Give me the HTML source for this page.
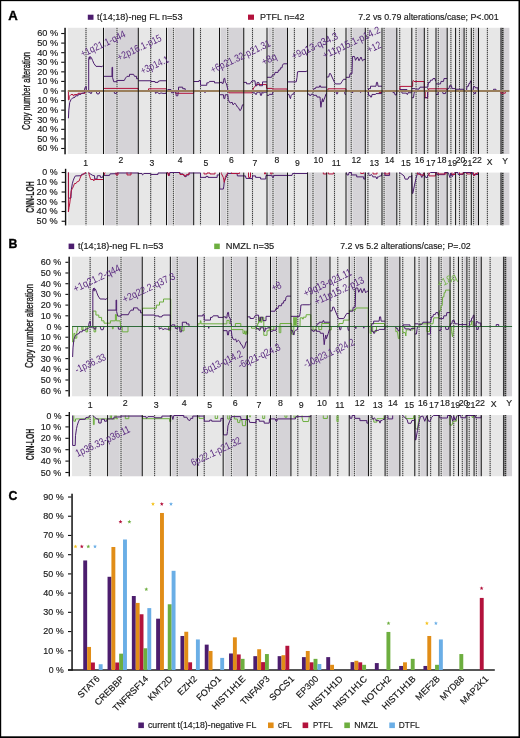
<!DOCTYPE html>
<html><head><meta charset="utf-8"><title>Figure</title>
<style>html,body{margin:0;padding:0;background:#fff;}body{width:520px;height:738px;overflow:hidden;font-family:"Liberation Sans",sans-serif;}svg{display:block;will-change:transform;}</style>
</head><body>
<svg width="520" height="738" viewBox="0 0 520 738" font-family="Liberation Sans, sans-serif">
<rect x="0" y="0" width="520" height="738" fill="#fff"/>
<g id="A">
<rect x="67.8" y="27.8" width="36" height="126.2" fill="#e7e7e7"/>
<rect x="103.5" y="27.8" width="35.1" height="126.2" fill="#e7e7e7"/>
<rect x="105" y="27.8" width="33.1" height="126.2" fill="#d5d3d7"/>
<rect x="138.3" y="27.8" width="28.5" height="126.2" fill="#e7e7e7"/>
<rect x="166.5" y="27.8" width="27.5" height="126.2" fill="#e7e7e7"/>
<rect x="168" y="27.8" width="25.5" height="126.2" fill="#d5d3d7"/>
<rect x="193.7" y="27.8" width="26.1" height="126.2" fill="#e7e7e7"/>
<rect x="219.5" y="27.8" width="24.55" height="126.2" fill="#e7e7e7"/>
<rect x="221" y="27.8" width="22.55" height="126.2" fill="#d5d3d7"/>
<rect x="243.75" y="27.8" width="23.55" height="126.2" fill="#e7e7e7"/>
<rect x="267" y="27.8" width="20.8" height="126.2" fill="#e7e7e7"/>
<rect x="268.5" y="27.8" width="18.8" height="126.2" fill="#d5d3d7"/>
<rect x="287.5" y="27.8" width="20.4" height="126.2" fill="#e7e7e7"/>
<rect x="307.6" y="27.8" width="19.4" height="126.2" fill="#e7e7e7"/>
<rect x="309.1" y="27.8" width="17.4" height="126.2" fill="#d5d3d7"/>
<rect x="326.7" y="27.8" width="19.6" height="126.2" fill="#e7e7e7"/>
<rect x="346" y="27.8" width="19.6" height="126.2" fill="#e7e7e7"/>
<rect x="347.5" y="27.8" width="17.6" height="126.2" fill="#d5d3d7"/>
<rect x="365.3" y="27.8" width="17" height="126.2" fill="#e7e7e7"/>
<rect x="382" y="27.8" width="15.1" height="126.2" fill="#e7e7e7"/>
<rect x="383.5" y="27.8" width="13.1" height="126.2" fill="#d5d3d7"/>
<rect x="396.8" y="27.8" width="15.3" height="126.2" fill="#e7e7e7"/>
<rect x="411.8" y="27.8" width="12.8" height="126.2" fill="#e7e7e7"/>
<rect x="417.1" y="27.8" width="7" height="126.2" fill="#d5d3d7"/>
<rect x="424.3" y="27.8" width="12" height="126.2" fill="#e7e7e7"/>
<rect x="436" y="27.8" width="11.5" height="126.2" fill="#e7e7e7"/>
<rect x="439.3" y="27.8" width="7.7" height="126.2" fill="#d5d3d7"/>
<rect x="447.2" y="27.8" width="8.7" height="126.2" fill="#e7e7e7"/>
<rect x="455.6" y="27.8" width="8.8" height="126.2" fill="#e7e7e7"/>
<rect x="460.5" y="27.8" width="3.4" height="126.2" fill="#d5d3d7"/>
<rect x="464.1" y="27.8" width="7.5" height="126.2" fill="#e7e7e7"/>
<rect x="471.3" y="27.8" width="7.5" height="126.2" fill="#e7e7e7"/>
<rect x="474.6" y="27.8" width="3.7" height="126.2" fill="#d5d3d7"/>
<rect x="478.5" y="27.8" width="21.8" height="126.2" fill="#e7e7e7"/>
<rect x="500" y="27.8" width="9.4" height="126.2" fill="#d5d3d7"/>
<rect x="500.5" y="27.8" width="1.15" height="126.2" fill="#151515"/>
<rect x="501.75" y="27.8" width="1.9" height="126.2" fill="#909090"/>
<rect x="115.7" y="27.8" width="2.6" height="126.2" fill="#e7e7e7"/>
<rect x="172.1" y="27.8" width="2.6" height="126.2" fill="#e7e7e7"/>
<rect x="226.45" y="27.8" width="2.6" height="126.2" fill="#e7e7e7"/>
<rect x="271.7" y="27.8" width="2.6" height="126.2" fill="#e7e7e7"/>
<rect x="311.7" y="27.8" width="2.6" height="126.2" fill="#e7e7e7"/>
<rect x="349.9" y="27.8" width="2.6" height="126.2" fill="#e7e7e7"/>
<rect x="382.8" y="27.8" width="2.6" height="126.2" fill="#e7e7e7"/>
<rect x="414.8" y="27.8" width="2.6" height="126.2" fill="#e7e7e7"/>
<rect x="437" y="27.8" width="2.6" height="126.2" fill="#e7e7e7"/>
<rect x="458.2" y="27.8" width="2.6" height="126.2" fill="#e7e7e7"/>
<rect x="472.3" y="27.8" width="2.6" height="126.2" fill="#e7e7e7"/>
<line x1="86" y1="27.8" x2="86" y2="154" stroke="#b2b2b2" stroke-width="1.15"/>
<line x1="86" y1="28" x2="86" y2="154" stroke="#222" stroke-width="1" stroke-dasharray="1 1" stroke-opacity="0.78"/>
<line x1="117" y1="27.8" x2="117" y2="154" stroke="#b2b2b2" stroke-width="1.15"/>
<line x1="117" y1="28" x2="117" y2="154" stroke="#222" stroke-width="1" stroke-dasharray="1 1" stroke-opacity="0.78"/>
<line x1="150.7" y1="27.8" x2="150.7" y2="154" stroke="#b2b2b2" stroke-width="1.15"/>
<line x1="150.7" y1="28" x2="150.7" y2="154" stroke="#222" stroke-width="1" stroke-dasharray="1 1" stroke-opacity="0.78"/>
<line x1="173.4" y1="27.8" x2="173.4" y2="154" stroke="#b2b2b2" stroke-width="1.15"/>
<line x1="173.4" y1="28" x2="173.4" y2="154" stroke="#222" stroke-width="1" stroke-dasharray="1 1" stroke-opacity="0.78"/>
<line x1="200.5" y1="27.8" x2="200.5" y2="154" stroke="#b2b2b2" stroke-width="1.15"/>
<line x1="200.5" y1="28" x2="200.5" y2="154" stroke="#222" stroke-width="1" stroke-dasharray="1 1" stroke-opacity="0.78"/>
<line x1="227.75" y1="27.8" x2="227.75" y2="154" stroke="#b2b2b2" stroke-width="1.15"/>
<line x1="227.75" y1="28" x2="227.75" y2="154" stroke="#222" stroke-width="1" stroke-dasharray="1 1" stroke-opacity="0.78"/>
<line x1="252.5" y1="27.8" x2="252.5" y2="154" stroke="#b2b2b2" stroke-width="1.15"/>
<line x1="252.5" y1="28" x2="252.5" y2="154" stroke="#222" stroke-width="1" stroke-dasharray="1 1" stroke-opacity="0.78"/>
<line x1="273" y1="27.8" x2="273" y2="154" stroke="#b2b2b2" stroke-width="1.15"/>
<line x1="273" y1="28" x2="273" y2="154" stroke="#222" stroke-width="1" stroke-dasharray="1 1" stroke-opacity="0.78"/>
<line x1="294.4" y1="27.8" x2="294.4" y2="154" stroke="#b2b2b2" stroke-width="1.15"/>
<line x1="294.4" y1="28" x2="294.4" y2="154" stroke="#222" stroke-width="1" stroke-dasharray="1 1" stroke-opacity="0.78"/>
<line x1="313" y1="27.8" x2="313" y2="154" stroke="#b2b2b2" stroke-width="1.15"/>
<line x1="313" y1="28" x2="313" y2="154" stroke="#222" stroke-width="1" stroke-dasharray="1 1" stroke-opacity="0.78"/>
<line x1="334.5" y1="27.8" x2="334.5" y2="154" stroke="#b2b2b2" stroke-width="1.15"/>
<line x1="334.5" y1="28" x2="334.5" y2="154" stroke="#222" stroke-width="1" stroke-dasharray="1 1" stroke-opacity="0.78"/>
<line x1="351.2" y1="27.8" x2="351.2" y2="154" stroke="#b2b2b2" stroke-width="1.15"/>
<line x1="351.2" y1="28" x2="351.2" y2="154" stroke="#222" stroke-width="1" stroke-dasharray="1 1" stroke-opacity="0.78"/>
<line x1="367.9" y1="27.8" x2="367.9" y2="154" stroke="#b2b2b2" stroke-width="1.15"/>
<line x1="367.9" y1="28" x2="367.9" y2="154" stroke="#222" stroke-width="1" stroke-dasharray="1 1" stroke-opacity="0.78"/>
<line x1="384.1" y1="27.8" x2="384.1" y2="154" stroke="#b2b2b2" stroke-width="1.15"/>
<line x1="384.1" y1="28" x2="384.1" y2="154" stroke="#222" stroke-width="1" stroke-dasharray="1 1" stroke-opacity="0.78"/>
<line x1="399.7" y1="27.8" x2="399.7" y2="154" stroke="#b2b2b2" stroke-width="1.15"/>
<line x1="399.7" y1="28" x2="399.7" y2="154" stroke="#222" stroke-width="1" stroke-dasharray="1 1" stroke-opacity="0.78"/>
<line x1="416.1" y1="27.8" x2="416.1" y2="154" stroke="#b2b2b2" stroke-width="1.15"/>
<line x1="416.1" y1="28" x2="416.1" y2="154" stroke="#222" stroke-width="1" stroke-dasharray="1 1" stroke-opacity="0.78"/>
<line x1="427.7" y1="27.8" x2="427.7" y2="154" stroke="#b2b2b2" stroke-width="1.15"/>
<line x1="427.7" y1="28" x2="427.7" y2="154" stroke="#222" stroke-width="1" stroke-dasharray="1 1" stroke-opacity="0.78"/>
<line x1="438.3" y1="27.8" x2="438.3" y2="154" stroke="#b2b2b2" stroke-width="1.15"/>
<line x1="438.3" y1="28" x2="438.3" y2="154" stroke="#222" stroke-width="1" stroke-dasharray="1 1" stroke-opacity="0.78"/>
<line x1="450.9" y1="27.8" x2="450.9" y2="154" stroke="#b2b2b2" stroke-width="1.15"/>
<line x1="450.9" y1="28" x2="450.9" y2="154" stroke="#222" stroke-width="1" stroke-dasharray="1 1" stroke-opacity="0.78"/>
<line x1="459.5" y1="27.8" x2="459.5" y2="154" stroke="#b2b2b2" stroke-width="1.15"/>
<line x1="459.5" y1="28" x2="459.5" y2="154" stroke="#222" stroke-width="1" stroke-dasharray="1 1" stroke-opacity="0.78"/>
<line x1="466.4" y1="27.8" x2="466.4" y2="154" stroke="#b2b2b2" stroke-width="1.15"/>
<line x1="466.4" y1="28" x2="466.4" y2="154" stroke="#222" stroke-width="1" stroke-dasharray="1 1" stroke-opacity="0.78"/>
<line x1="473.6" y1="27.8" x2="473.6" y2="154" stroke="#b2b2b2" stroke-width="1.15"/>
<line x1="473.6" y1="28" x2="473.6" y2="154" stroke="#222" stroke-width="1" stroke-dasharray="1 1" stroke-opacity="0.78"/>
<line x1="487.4" y1="27.8" x2="487.4" y2="154" stroke="#b2b2b2" stroke-width="1.15"/>
<line x1="487.4" y1="28" x2="487.4" y2="154" stroke="#222" stroke-width="1" stroke-dasharray="1 1" stroke-opacity="0.78"/>
<line x1="502.7" y1="28" x2="502.7" y2="154" stroke="#222" stroke-width="1.5" stroke-dasharray="1 1" stroke-opacity="0.85"/>
<rect x="64.3" y="27.8" width="1.5" height="126.5" fill="#111"/>
<rect x="61.2" y="147.93" width="3.4" height="1.1" fill="#111"/>
<text x="58.2" y="151.38" font-size="8.2" text-anchor="end" fill="#1a1a1a" textLength="21" lengthAdjust="spacingAndGlyphs"  stroke="#1a1a1a" stroke-width="0.15">60 %</text>
<rect x="61.2" y="138.35" width="3.4" height="1.1" fill="#111"/>
<text x="58.2" y="141.8" font-size="8.2" text-anchor="end" fill="#1a1a1a" textLength="21" lengthAdjust="spacingAndGlyphs"  stroke="#1a1a1a" stroke-width="0.15">50 %</text>
<rect x="61.2" y="128.77" width="3.4" height="1.1" fill="#111"/>
<text x="58.2" y="132.22" font-size="8.2" text-anchor="end" fill="#1a1a1a" textLength="21" lengthAdjust="spacingAndGlyphs"  stroke="#1a1a1a" stroke-width="0.15">40 %</text>
<rect x="61.2" y="119.19" width="3.4" height="1.1" fill="#111"/>
<text x="58.2" y="122.64" font-size="8.2" text-anchor="end" fill="#1a1a1a" textLength="21" lengthAdjust="spacingAndGlyphs"  stroke="#1a1a1a" stroke-width="0.15">30 %</text>
<rect x="61.2" y="109.61" width="3.4" height="1.1" fill="#111"/>
<text x="58.2" y="113.06" font-size="8.2" text-anchor="end" fill="#1a1a1a" textLength="21" lengthAdjust="spacingAndGlyphs"  stroke="#1a1a1a" stroke-width="0.15">20 %</text>
<rect x="61.2" y="100.03" width="3.4" height="1.1" fill="#111"/>
<text x="58.2" y="103.48" font-size="8.2" text-anchor="end" fill="#1a1a1a" textLength="21" lengthAdjust="spacingAndGlyphs"  stroke="#1a1a1a" stroke-width="0.15">10 %</text>
<rect x="61.2" y="90.45" width="3.4" height="1.1" fill="#111"/>
<text x="58.2" y="93.9" font-size="8.2" text-anchor="end" fill="#1a1a1a" textLength="15.3" lengthAdjust="spacingAndGlyphs"  stroke="#1a1a1a" stroke-width="0.15">0 %</text>
<rect x="61.2" y="80.87" width="3.4" height="1.1" fill="#111"/>
<text x="58.2" y="84.32" font-size="8.2" text-anchor="end" fill="#1a1a1a" textLength="21" lengthAdjust="spacingAndGlyphs"  stroke="#1a1a1a" stroke-width="0.15">10 %</text>
<rect x="61.2" y="71.29" width="3.4" height="1.1" fill="#111"/>
<text x="58.2" y="74.74" font-size="8.2" text-anchor="end" fill="#1a1a1a" textLength="21" lengthAdjust="spacingAndGlyphs"  stroke="#1a1a1a" stroke-width="0.15">20 %</text>
<rect x="61.2" y="61.71" width="3.4" height="1.1" fill="#111"/>
<text x="58.2" y="65.16" font-size="8.2" text-anchor="end" fill="#1a1a1a" textLength="21" lengthAdjust="spacingAndGlyphs"  stroke="#1a1a1a" stroke-width="0.15">30 %</text>
<rect x="61.2" y="52.13" width="3.4" height="1.1" fill="#111"/>
<text x="58.2" y="55.58" font-size="8.2" text-anchor="end" fill="#1a1a1a" textLength="21" lengthAdjust="spacingAndGlyphs"  stroke="#1a1a1a" stroke-width="0.15">40 %</text>
<rect x="61.2" y="42.55" width="3.4" height="1.1" fill="#111"/>
<text x="58.2" y="46" font-size="8.2" text-anchor="end" fill="#1a1a1a" textLength="21" lengthAdjust="spacingAndGlyphs"  stroke="#1a1a1a" stroke-width="0.15">50 %</text>
<rect x="61.2" y="32.97" width="3.4" height="1.1" fill="#111"/>
<text x="58.2" y="36.42" font-size="8.2" text-anchor="end" fill="#1a1a1a" textLength="21" lengthAdjust="spacingAndGlyphs"  stroke="#1a1a1a" stroke-width="0.15">60 %</text>
<text x="0" y="0" font-size="11.3" text-anchor="middle" fill="#1a1a1a" textLength="78" lengthAdjust="spacingAndGlyphs" transform="translate(29.7 91) rotate(-90)" stroke="#1a1a1a" stroke-width="0.35">Copy number alteration</text>
<polyline points="103.5,91 103.5,88.41 138.3,88.41 138.3,91" fill="none" stroke="#b3123c" stroke-width="1" stroke-linejoin="miter"/>
<polyline points="148.5,91 148.5,88.8 166.5,88.8 166.5,91" fill="none" stroke="#b3123c" stroke-width="1" stroke-linejoin="miter"/>
<polyline points="252.2,91 254,87.65 256.5,84.58 266.6,84.58 266.6,88.41 272,88.41 272,88.99 287.3,88.99 287.3,91" fill="none" stroke="#b3123c" stroke-width="1" stroke-linejoin="miter"/>
<polyline points="327.9,91 327.9,88.8 346,88.8 346,91" fill="none" stroke="#b3123c" stroke-width="1" stroke-linejoin="miter"/>
<polyline points="400,91 400,86.4 411.3,86.4 412.7,86.4 412.7,81.52 413.4,80.46 414,81.52 424.3,81.52 424.3,91" fill="none" stroke="#b3123c" stroke-width="1" stroke-linejoin="miter"/>
<polyline points="428.6,91 428.6,88.8 446.8,88.8 446.8,91" fill="none" stroke="#b3123c" stroke-width="1" stroke-linejoin="miter"/>
<polyline points="68.4,91 68.4,99.81 69,99.81 69.3,96.27 71,94.54 73,94.54 73.3,95.79 74,95.79 74.3,94.54 77.6,94.54 78,93.3 85,93.3 85,91.96 86,91" fill="none" stroke="#b3123c" stroke-width="1" stroke-linejoin="miter"/>
<polyline points="175.7,91 175.7,93.3 193.7,93.3 193.7,91" fill="none" stroke="#b3123c" stroke-width="1" stroke-linejoin="miter"/>
<polyline points="228.8,91 228.8,92.82 252.2,92.82 252.2,91" fill="none" stroke="#b3123c" stroke-width="1" stroke-linejoin="miter"/>
<polyline points="379.2,91 379.2,92.53 381.5,92.53 381.5,91" fill="none" stroke="#b3123c" stroke-width="1" stroke-linejoin="miter"/>
<polyline points="425.2,91 425.2,97.71 427.7,97.71 427.7,91" fill="none" stroke="#b3123c" stroke-width="1" stroke-linejoin="miter"/>
<polyline points="501,91 501,93.2 505.3,93.2 505.3,91" fill="none" stroke="#b3123c" stroke-width="1" stroke-linejoin="miter"/>
<polyline points="68,91 84.6,91 84.6,89.08 85.5,86.59 86.3,86.59 86.3,91 88.7,91 88.7,58.43 89.4,56.7 89.9,59.39 90.4,56.7 91.3,57.47 92.5,60.34 94,63.7 96,66.38 100,66.38 102,66.76 103.5,65.13" fill="none" stroke="#4c1d6e" stroke-width="1" stroke-linejoin="miter"/>
<polyline points="103.5,76.34 112,76.34 112,67.34 112.6,67.34 112.6,77.59 113.7,81.71 117,81.71 117,80.46 124.3,80.46 125.5,78.07 127,76.34 129.5,76.34 129.5,74.33 133.6,74.33 134.5,76.34 136.6,76.34 136.6,78.74 138.3,78.74" fill="none" stroke="#4c1d6e" stroke-width="1" stroke-linejoin="miter"/>
<polyline points="138.3,80.75 151,80.75 151,81.52 155,81.52 155,82.38 158,82.38 158,81.52 160,80.75 166.5,80.75 166.5,91" fill="none" stroke="#4c1d6e" stroke-width="1" stroke-linejoin="miter"/>
<polyline points="166.5,91 168,89.56 171,89.56 171,91 178.5,91 178.5,87.17 182.7,87.17 182.7,88.7 185.2,88.7 185.2,91 193.7,91" fill="none" stroke="#4c1d6e" stroke-width="1" stroke-linejoin="miter"/>
<polyline points="193.7,81.52 199,81.52 199,80.46 200.5,80.46 200.5,85.25 206.8,85.25 206.8,82.86 208.5,82.86 209.5,81.42 214.5,81.42 214.5,82.86 219.5,82.86" fill="none" stroke="#4c1d6e" stroke-width="1" stroke-linejoin="miter"/>
<polyline points="219.5,82.38 222,82.38 222,83.34 223.2,83.34 223.5,80.65 224.1,78.35 224.8,78.35 225.3,82.38 226.3,83.34 227,85.83 228,91 243.75,91" fill="none" stroke="#4c1d6e" stroke-width="1" stroke-linejoin="miter"/>
<polyline points="243.75,82.38 246.5,82.38 246.5,83.81 250,83.81 252,80.85 255,80.85 255.5,85.73 257,85.73 257,82.67 259,82.67 259.5,85.73 262.5,85.73 262.5,81.9 267,81.9" fill="none" stroke="#4c1d6e" stroke-width="1" stroke-linejoin="miter"/>
<polyline points="267,77.3 271.5,77.3 272.5,74.91 274.5,74.91 275,72.41 278,72.41 278.5,70.12 280,70.12 280.5,67.82 282,67.82 282.5,65.13 283.5,63.79 287.5,63.79" fill="none" stroke="#4c1d6e" stroke-width="1" stroke-linejoin="miter"/>
<polyline points="287.5,81.9 296.2,81.9 297,77.59 297.5,71.84 299,71.55 306,71.55 307,70.88 307.6,70.88" fill="none" stroke="#4c1d6e" stroke-width="1" stroke-linejoin="miter"/>
<polyline points="307.6,91 313,91 314.2,88.51 315.6,88.51 315.9,87.17 319.4,87.17 319.7,85.73 320.4,85.73 320.7,87.17 325.9,87.17 326.7,87.17" fill="none" stroke="#4c1d6e" stroke-width="1" stroke-linejoin="miter"/>
<polyline points="326.7,77.01 328.7,77.01 329.5,73.56 330.5,73.56 332,77.01 334.5,82.38 335.5,83.91 340.5,83.91 342,81.61 343.5,79.31 346,79.31" fill="none" stroke="#4c1d6e" stroke-width="1" stroke-linejoin="miter"/>
<polyline points="346,77.3 349.5,77.3 350,73.76 352,73.76 352.5,56.51 354.5,56.51 355.5,60.34 357.5,56.99 359,60.82 361,56.99 362.5,60.82 364,59.39 365.3,59.39" fill="none" stroke="#4c1d6e" stroke-width="1" stroke-linejoin="miter"/>
<polyline points="365.3,91 368.5,91 368.5,88.61 370.5,88.61 370.5,86.21 376,86.21 376.5,82.38 377.5,82.38 378,86.21 382,86.21" fill="none" stroke="#4c1d6e" stroke-width="1" stroke-linejoin="miter"/>
<polyline points="396.8,91 400,91 400,89.56 407,89.56 407,91 411.8,91" fill="none" stroke="#4c1d6e" stroke-width="1" stroke-linejoin="miter"/>
<polyline points="411.8,88.61 415,88.61 415.5,89.08 419,89.08 420,87.17 424.3,87.17" fill="none" stroke="#4c1d6e" stroke-width="1" stroke-linejoin="miter"/>
<polyline points="424.3,87.17 427.7,87.17 428.5,82.38 430,82.38 430.5,80.17 432.5,80.17 433,78.55 435,78.55 435.5,80.94 436,80.94" fill="none" stroke="#4c1d6e" stroke-width="1" stroke-linejoin="miter"/>
<polyline points="436,83.91 440.5,83.91 441,81.42 443.5,81.42 444,78.55 447.2,78.55" fill="none" stroke="#4c1d6e" stroke-width="1" stroke-linejoin="miter"/>
<polyline points="447.2,91 447.5,88.61 449,88.61 449.5,85.73 451.5,85.73 452,88.61 455,88.61" fill="none" stroke="#4c1d6e" stroke-width="1" stroke-linejoin="miter"/>
<polyline points="455.6,89.28 464.1,89.28" fill="none" stroke="#4c1d6e" stroke-width="1" stroke-linejoin="miter"/>
<polyline points="464.1,91 466.5,91 467,86.21 468.5,86.21 469,83.34 470,83.34 470.5,80.94 471.3,80.94 471.3,91" fill="none" stroke="#4c1d6e" stroke-width="1" stroke-linejoin="miter"/>
<polyline points="471.3,91 473,91 473.5,86.69 475,86.69 475.5,87.84 478,87.84 478,91" fill="none" stroke="#4c1d6e" stroke-width="1" stroke-linejoin="miter"/>
<polyline points="493.5,91 493.5,89.28 496,89.28 496,91" fill="none" stroke="#4c1d6e" stroke-width="1" stroke-linejoin="miter"/>
<polyline points="68.4,118.3 68.8,110.16 69.7,102.5 71,99.62 72.3,98.19 75,97.23 75.5,95.79 78,95.79 78.5,94.35 81,94.35 81.5,93.39 84,92.92 86,91 88.5,92.15 90,92.15 90.3,93.39 91.5,93.39 92,91 96,91 97,93.87 99,93.87 100,91 103.5,91" fill="none" stroke="#4c1d6e" stroke-width="1" stroke-linejoin="miter"/>
<polyline points="103.5,91 114,91 114.5,93.39 116.5,93.39 117,91 138.3,91" fill="none" stroke="#4c1d6e" stroke-width="1" stroke-linejoin="miter"/>
<polyline points="138.3,91 155,91 155.5,93.39 157.5,92.15 159,93.87 161,92.92 163,93.39 166,93.39 166.5,91" fill="none" stroke="#4c1d6e" stroke-width="1" stroke-linejoin="miter"/>
<polyline points="171.5,91 171.5,92.72 174,92.72 174,91 175.7,91 176.2,95.79 177.8,95.79 178.3,91" fill="none" stroke="#4c1d6e" stroke-width="1" stroke-linejoin="miter"/>
<polyline points="204.5,91 205,92.72 205.5,91" fill="none" stroke="#4c1d6e" stroke-width="1" stroke-linejoin="miter"/>
<polyline points="219.5,94.74 223.4,94.74 223.9,98.57 224.8,98.57 225.3,94.74 227.76,94.74 228.3,99.62 229.6,102.5 231,102.97 232,102.02 233,104.8 234.8,103.26 236,104.41 237.4,107.09 238.5,107.77 239.9,110.64 241,109.68 242.5,104.8 243.75,104.8" fill="none" stroke="#4c1d6e" stroke-width="1" stroke-linejoin="miter"/>
<polyline points="252.5,91 253,92.92 255,92.92 255.5,94.35 256.5,94.35 257,92.15 260,92.15 260.5,95.31 261.5,95.31 262,92.15 263,93.39 264,92.15 267,92.15" fill="none" stroke="#4c1d6e" stroke-width="1" stroke-linejoin="miter"/>
<polyline points="267,95.31 269,95.31 269.5,94.35 272.5,94.35 273,91 287.5,91" fill="none" stroke="#4c1d6e" stroke-width="1" stroke-linejoin="miter"/>
<polyline points="287.5,94.35 289,94.35 289.5,96.75 290.5,98.66 291,95.79 292,94.35 294,93.87 294.4,91 307.6,91" fill="none" stroke="#4c1d6e" stroke-width="1" stroke-linejoin="miter"/>
<polyline points="307.6,94.07 309,94.07 309.5,95.31 311,95.31 311.5,94.07 313,94.07 313.5,95.31 316.5,95.31 317,97.04 320,97.04 320.3,100.58 320.9,107.29 321.5,102.97 322.5,98.66 323,102.02 324,99.62 325,97.04 326,93.87 326.7,93.39" fill="none" stroke="#4c1d6e" stroke-width="1" stroke-linejoin="miter"/>
<polyline points="336,91 336.5,93.87 337.5,93.87 338,91" fill="none" stroke="#4c1d6e" stroke-width="1" stroke-linejoin="miter"/>
<polyline points="344.5,91 345,94.35 346,94.35" fill="none" stroke="#4c1d6e" stroke-width="1" stroke-linejoin="miter"/>
<polyline points="352.3,91 352.6,92.92 353,91" fill="none" stroke="#4c1d6e" stroke-width="1" stroke-linejoin="miter"/>
<polyline points="360.3,91 360.6,92.53 361,91" fill="none" stroke="#4c1d6e" stroke-width="1" stroke-linejoin="miter"/>
<polyline points="368.5,91 368.5,95.31 370,95.31 370.5,97.04 371.5,97.04 372,94.45 375.5,94.45 376,93.59 381.5,93.59 382,91" fill="none" stroke="#4c1d6e" stroke-width="1" stroke-linejoin="miter"/>
<polyline points="392.5,91 393,92.63 394.5,92.63 395,94.83 396.5,94.83 396.8,91" fill="none" stroke="#4c1d6e" stroke-width="1" stroke-linejoin="miter"/>
<polyline points="401.5,91 402,93.11 406.5,93.11 407,94.45 407.5,94.45 408,92.72 411.8,92.72" fill="none" stroke="#4c1d6e" stroke-width="1" stroke-linejoin="miter"/>
<polyline points="411.8,97.71 413.5,97.71 414,93.87 414.5,91" fill="none" stroke="#4c1d6e" stroke-width="1" stroke-linejoin="miter"/>
<polyline points="424.3,97.71 427.5,97.71 427.7,91" fill="none" stroke="#4c1d6e" stroke-width="1" stroke-linejoin="miter"/>
<polyline points="436,94.45 438,94.45 438.3,91 442.5,91 443,93.59 445.5,93.59 446,91" fill="none" stroke="#4c1d6e" stroke-width="1" stroke-linejoin="miter"/>
<polyline points="473.8,91 474,93.59 475.5,93.59 475.7,91" fill="none" stroke="#4c1d6e" stroke-width="1" stroke-linejoin="miter"/>
<rect x="67.8" y="90" width="441.6" height="2" fill="#9a7f5c"/>
<line x1="103.5" y1="27.8" x2="103.5" y2="154" stroke="#111" stroke-width="1"/>
<line x1="138.3" y1="27.8" x2="138.3" y2="154" stroke="#111" stroke-width="1"/>
<line x1="166.5" y1="27.8" x2="166.5" y2="154" stroke="#111" stroke-width="1"/>
<line x1="193.7" y1="27.8" x2="193.7" y2="154" stroke="#111" stroke-width="1"/>
<line x1="219.5" y1="27.8" x2="219.5" y2="154" stroke="#111" stroke-width="1"/>
<line x1="243.75" y1="27.8" x2="243.75" y2="154" stroke="#111" stroke-width="1"/>
<line x1="267" y1="27.8" x2="267" y2="154" stroke="#111" stroke-width="1"/>
<line x1="287.5" y1="27.8" x2="287.5" y2="154" stroke="#111" stroke-width="1"/>
<line x1="307.6" y1="27.8" x2="307.6" y2="154" stroke="#111" stroke-width="1"/>
<line x1="326.7" y1="27.8" x2="326.7" y2="154" stroke="#111" stroke-width="1"/>
<line x1="346" y1="27.8" x2="346" y2="154" stroke="#111" stroke-width="1"/>
<line x1="365.3" y1="27.8" x2="365.3" y2="154" stroke="#111" stroke-width="1"/>
<line x1="382" y1="27.8" x2="382" y2="154" stroke="#111" stroke-width="1"/>
<line x1="396.8" y1="27.8" x2="396.8" y2="154" stroke="#111" stroke-width="1"/>
<line x1="411.8" y1="27.8" x2="411.8" y2="154" stroke="#111" stroke-width="1"/>
<line x1="424.3" y1="27.8" x2="424.3" y2="154" stroke="#111" stroke-width="1"/>
<line x1="436" y1="27.8" x2="436" y2="154" stroke="#111" stroke-width="1"/>
<line x1="447.2" y1="27.8" x2="447.2" y2="154" stroke="#111" stroke-width="1"/>
<line x1="455.6" y1="27.8" x2="455.6" y2="154" stroke="#111" stroke-width="1"/>
<line x1="464.1" y1="27.8" x2="464.1" y2="154" stroke="#111" stroke-width="1"/>
<line x1="471.3" y1="27.8" x2="471.3" y2="154" stroke="#111" stroke-width="1"/>
<line x1="478.5" y1="27.8" x2="478.5" y2="154" stroke="#111" stroke-width="1"/>
<text x="85.7" y="165.5" font-size="8.6" text-anchor="middle" fill="#1a1a1a"  stroke="#1a1a1a" stroke-width="0.15">1</text>
<text x="120.8" y="162.8" font-size="8.6" text-anchor="middle" fill="#1a1a1a"  stroke="#1a1a1a" stroke-width="0.15">2</text>
<text x="152" y="165.5" font-size="8.6" text-anchor="middle" fill="#1a1a1a"  stroke="#1a1a1a" stroke-width="0.15">3</text>
<text x="180.2" y="162.8" font-size="8.6" text-anchor="middle" fill="#1a1a1a"  stroke="#1a1a1a" stroke-width="0.15">4</text>
<text x="205.8" y="165.5" font-size="8.6" text-anchor="middle" fill="#1a1a1a"  stroke="#1a1a1a" stroke-width="0.15">5</text>
<text x="231.3" y="162.8" font-size="8.6" text-anchor="middle" fill="#1a1a1a"  stroke="#1a1a1a" stroke-width="0.15">6</text>
<text x="255" y="165.5" font-size="8.6" text-anchor="middle" fill="#1a1a1a"  stroke="#1a1a1a" stroke-width="0.15">7</text>
<text x="276.8" y="162.8" font-size="8.6" text-anchor="middle" fill="#1a1a1a"  stroke="#1a1a1a" stroke-width="0.15">8</text>
<text x="297.5" y="165.5" font-size="8.6" text-anchor="middle" fill="#1a1a1a"  stroke="#1a1a1a" stroke-width="0.15">9</text>
<text x="318.4" y="162.8" font-size="8.6" text-anchor="middle" fill="#1a1a1a"  stroke="#1a1a1a" stroke-width="0.15">10</text>
<text x="336.3" y="165.5" font-size="8.6" text-anchor="middle" fill="#1a1a1a"  stroke="#1a1a1a" stroke-width="0.15">11</text>
<text x="356.2" y="162.8" font-size="8.6" text-anchor="middle" fill="#1a1a1a"  stroke="#1a1a1a" stroke-width="0.15">12</text>
<text x="374.3" y="165.5" font-size="8.6" text-anchor="middle" fill="#1a1a1a"  stroke="#1a1a1a" stroke-width="0.15">13</text>
<text x="389.5" y="162.8" font-size="8.6" text-anchor="middle" fill="#1a1a1a"  stroke="#1a1a1a" stroke-width="0.15">14</text>
<text x="405.9" y="165.5" font-size="8.6" text-anchor="middle" fill="#1a1a1a"  stroke="#1a1a1a" stroke-width="0.15">15</text>
<text x="419.6" y="162.8" font-size="8.6" text-anchor="middle" fill="#1a1a1a"  stroke="#1a1a1a" stroke-width="0.15">16</text>
<text x="430.7" y="165.5" font-size="8.6" text-anchor="middle" fill="#1a1a1a"  stroke="#1a1a1a" stroke-width="0.15">17</text>
<text x="441.8" y="162.8" font-size="8.6" text-anchor="middle" fill="#1a1a1a"  stroke="#1a1a1a" stroke-width="0.15">18</text>
<text x="452.2" y="165.5" font-size="8.6" text-anchor="middle" fill="#1a1a1a"  stroke="#1a1a1a" stroke-width="0.15">19</text>
<text x="460.5" y="162.8" font-size="8.6" text-anchor="middle" fill="#1a1a1a"  stroke="#1a1a1a" stroke-width="0.15">20</text>
<text x="467.5" y="165.5" font-size="8.6" text-anchor="middle" fill="#1a1a1a"  stroke="#1a1a1a" stroke-width="0.15">21</text>
<text x="477" y="162.8" font-size="8.6" text-anchor="middle" fill="#1a1a1a"  stroke="#1a1a1a" stroke-width="0.15">22</text>
<text x="489.7" y="164.8" font-size="8.6" text-anchor="middle" fill="#1a1a1a"  stroke="#1a1a1a" stroke-width="0.15">X</text>
<text x="505.2" y="163.5" font-size="8.6" text-anchor="middle" fill="#1a1a1a"  stroke="#1a1a1a" stroke-width="0.15">Y</text>
<text x="82.5" y="57.3" font-size="10.2" text-anchor="start" fill="#5a2a80" textLength="48.5" lengthAdjust="spacingAndGlyphs" transform="rotate(-25.3 82.5 57.3)" >+1q21.1-q44</text>
<text x="119" y="61" font-size="10.2" text-anchor="start" fill="#5a2a80" textLength="48" lengthAdjust="spacingAndGlyphs" transform="rotate(-25.3 119 61)" >+2p16.1-p15</text>
<text x="142.5" y="74.5" font-size="10.2" text-anchor="start" fill="#5a2a80" textLength="30" lengthAdjust="spacingAndGlyphs" transform="rotate(-25.3 142.5 74.5)" >+3p14.1</text>
<text x="212.5" y="73.5" font-size="10.2" text-anchor="start" fill="#5a2a80" textLength="65" lengthAdjust="spacingAndGlyphs" transform="rotate(-25.3 212.5 73.5)" >+6p21.32-p21.31</text>
<text x="263.5" y="65.5" font-size="10.2" text-anchor="start" fill="#5a2a80" textLength="15.5" lengthAdjust="spacingAndGlyphs" transform="rotate(-25.3 263.5 65.5)" >+8q</text>
<text x="293.5" y="59.8" font-size="10.2" text-anchor="start" fill="#5a2a80" textLength="50" lengthAdjust="spacingAndGlyphs" transform="rotate(-25.3 293.5 59.8)" >+9q13-q34.3</text>
<text x="324.5" y="59" font-size="10.2" text-anchor="start" fill="#5a2a80" textLength="62.5" lengthAdjust="spacingAndGlyphs" transform="rotate(-25.3 324.5 59)" >+11p15.1-p14.2</text>
<text x="369" y="53.3" font-size="10.2" text-anchor="start" fill="#5a2a80" textLength="14.5" lengthAdjust="spacingAndGlyphs" transform="rotate(-25.3 369 53.3)" >+12</text>
<rect x="87.8" y="14.7" width="5.7" height="5.1" fill="#4c1d6e"/>
<text x="97" y="20.2" font-size="8.4" text-anchor="start" fill="#1a1a1a" textLength="85.5" lengthAdjust="spacingAndGlyphs"  stroke="#1a1a1a" stroke-width="0.15">t(14;18)-neg FL n=53</text>
<rect x="248" y="14.6" width="6" height="5.2" fill="#b3123c"/>
<text x="260" y="20.2" font-size="8.4" text-anchor="start" fill="#1a1a1a" textLength="44.5" lengthAdjust="spacingAndGlyphs"  stroke="#1a1a1a" stroke-width="0.15">PTFL n=42</text>
<text x="358.2" y="20.2" font-size="8.4" text-anchor="start" fill="#1a1a1a" textLength="140.5" lengthAdjust="spacingAndGlyphs"  stroke="#1a1a1a" stroke-width="0.15">7.2 vs 0.79 alterations/case; P&lt;.001</text>
<text x="8.2" y="19.5" font-size="12.6" text-anchor="start" fill="#000" font-weight="bold" textLength="9.5" lengthAdjust="spacingAndGlyphs" stroke="#000" stroke-width="0.35">A</text>
<rect x="67.8" y="172.6" width="36" height="52.6" fill="#e7e7e7"/>
<rect x="103.5" y="172.6" width="35.1" height="52.6" fill="#e7e7e7"/>
<rect x="105" y="172.6" width="33.1" height="52.6" fill="#d5d3d7"/>
<rect x="138.3" y="172.6" width="28.5" height="52.6" fill="#e7e7e7"/>
<rect x="166.5" y="172.6" width="27.5" height="52.6" fill="#e7e7e7"/>
<rect x="168" y="172.6" width="25.5" height="52.6" fill="#d5d3d7"/>
<rect x="193.7" y="172.6" width="26.1" height="52.6" fill="#e7e7e7"/>
<rect x="219.5" y="172.6" width="24.55" height="52.6" fill="#e7e7e7"/>
<rect x="221" y="172.6" width="22.55" height="52.6" fill="#d5d3d7"/>
<rect x="243.75" y="172.6" width="23.55" height="52.6" fill="#e7e7e7"/>
<rect x="267" y="172.6" width="20.8" height="52.6" fill="#e7e7e7"/>
<rect x="268.5" y="172.6" width="18.8" height="52.6" fill="#d5d3d7"/>
<rect x="287.5" y="172.6" width="20.4" height="52.6" fill="#e7e7e7"/>
<rect x="307.6" y="172.6" width="19.4" height="52.6" fill="#e7e7e7"/>
<rect x="309.1" y="172.6" width="17.4" height="52.6" fill="#d5d3d7"/>
<rect x="326.7" y="172.6" width="19.6" height="52.6" fill="#e7e7e7"/>
<rect x="346" y="172.6" width="19.6" height="52.6" fill="#e7e7e7"/>
<rect x="347.5" y="172.6" width="17.6" height="52.6" fill="#d5d3d7"/>
<rect x="365.3" y="172.6" width="17" height="52.6" fill="#e7e7e7"/>
<rect x="382" y="172.6" width="15.1" height="52.6" fill="#e7e7e7"/>
<rect x="383.5" y="172.6" width="13.1" height="52.6" fill="#d5d3d7"/>
<rect x="396.8" y="172.6" width="15.3" height="52.6" fill="#e7e7e7"/>
<rect x="411.8" y="172.6" width="12.8" height="52.6" fill="#e7e7e7"/>
<rect x="417.1" y="172.6" width="7" height="52.6" fill="#d5d3d7"/>
<rect x="424.3" y="172.6" width="12" height="52.6" fill="#e7e7e7"/>
<rect x="436" y="172.6" width="11.5" height="52.6" fill="#e7e7e7"/>
<rect x="439.3" y="172.6" width="7.7" height="52.6" fill="#d5d3d7"/>
<rect x="447.2" y="172.6" width="8.7" height="52.6" fill="#e7e7e7"/>
<rect x="455.6" y="172.6" width="8.8" height="52.6" fill="#e7e7e7"/>
<rect x="460.5" y="172.6" width="3.4" height="52.6" fill="#d5d3d7"/>
<rect x="464.1" y="172.6" width="7.5" height="52.6" fill="#e7e7e7"/>
<rect x="471.3" y="172.6" width="7.5" height="52.6" fill="#e7e7e7"/>
<rect x="474.6" y="172.6" width="3.7" height="52.6" fill="#d5d3d7"/>
<rect x="478.5" y="172.6" width="21.8" height="52.6" fill="#e7e7e7"/>
<rect x="500" y="172.6" width="9.4" height="52.6" fill="#d5d3d7"/>
<rect x="500.5" y="172.6" width="1.15" height="52.6" fill="#151515"/>
<rect x="501.75" y="172.6" width="1.9" height="52.6" fill="#909090"/>
<rect x="115.7" y="172.6" width="2.6" height="52.6" fill="#e7e7e7"/>
<rect x="172.1" y="172.6" width="2.6" height="52.6" fill="#e7e7e7"/>
<rect x="226.45" y="172.6" width="2.6" height="52.6" fill="#e7e7e7"/>
<rect x="271.7" y="172.6" width="2.6" height="52.6" fill="#e7e7e7"/>
<rect x="311.7" y="172.6" width="2.6" height="52.6" fill="#e7e7e7"/>
<rect x="349.9" y="172.6" width="2.6" height="52.6" fill="#e7e7e7"/>
<rect x="382.8" y="172.6" width="2.6" height="52.6" fill="#e7e7e7"/>
<rect x="414.8" y="172.6" width="2.6" height="52.6" fill="#e7e7e7"/>
<rect x="437" y="172.6" width="2.6" height="52.6" fill="#e7e7e7"/>
<rect x="458.2" y="172.6" width="2.6" height="52.6" fill="#e7e7e7"/>
<rect x="472.3" y="172.6" width="2.6" height="52.6" fill="#e7e7e7"/>
<line x1="86" y1="172.6" x2="86" y2="225.2" stroke="#b2b2b2" stroke-width="1.15"/>
<line x1="86" y1="173" x2="86" y2="225.2" stroke="#222" stroke-width="1" stroke-dasharray="1 1" stroke-opacity="0.78"/>
<line x1="117" y1="172.6" x2="117" y2="225.2" stroke="#b2b2b2" stroke-width="1.15"/>
<line x1="117" y1="173" x2="117" y2="225.2" stroke="#222" stroke-width="1" stroke-dasharray="1 1" stroke-opacity="0.78"/>
<line x1="150.7" y1="172.6" x2="150.7" y2="225.2" stroke="#b2b2b2" stroke-width="1.15"/>
<line x1="150.7" y1="173" x2="150.7" y2="225.2" stroke="#222" stroke-width="1" stroke-dasharray="1 1" stroke-opacity="0.78"/>
<line x1="173.4" y1="172.6" x2="173.4" y2="225.2" stroke="#b2b2b2" stroke-width="1.15"/>
<line x1="173.4" y1="173" x2="173.4" y2="225.2" stroke="#222" stroke-width="1" stroke-dasharray="1 1" stroke-opacity="0.78"/>
<line x1="200.5" y1="172.6" x2="200.5" y2="225.2" stroke="#b2b2b2" stroke-width="1.15"/>
<line x1="200.5" y1="173" x2="200.5" y2="225.2" stroke="#222" stroke-width="1" stroke-dasharray="1 1" stroke-opacity="0.78"/>
<line x1="227.75" y1="172.6" x2="227.75" y2="225.2" stroke="#b2b2b2" stroke-width="1.15"/>
<line x1="227.75" y1="173" x2="227.75" y2="225.2" stroke="#222" stroke-width="1" stroke-dasharray="1 1" stroke-opacity="0.78"/>
<line x1="252.5" y1="172.6" x2="252.5" y2="225.2" stroke="#b2b2b2" stroke-width="1.15"/>
<line x1="252.5" y1="173" x2="252.5" y2="225.2" stroke="#222" stroke-width="1" stroke-dasharray="1 1" stroke-opacity="0.78"/>
<line x1="273" y1="172.6" x2="273" y2="225.2" stroke="#b2b2b2" stroke-width="1.15"/>
<line x1="273" y1="173" x2="273" y2="225.2" stroke="#222" stroke-width="1" stroke-dasharray="1 1" stroke-opacity="0.78"/>
<line x1="294.4" y1="172.6" x2="294.4" y2="225.2" stroke="#b2b2b2" stroke-width="1.15"/>
<line x1="294.4" y1="173" x2="294.4" y2="225.2" stroke="#222" stroke-width="1" stroke-dasharray="1 1" stroke-opacity="0.78"/>
<line x1="313" y1="172.6" x2="313" y2="225.2" stroke="#b2b2b2" stroke-width="1.15"/>
<line x1="313" y1="173" x2="313" y2="225.2" stroke="#222" stroke-width="1" stroke-dasharray="1 1" stroke-opacity="0.78"/>
<line x1="334.5" y1="172.6" x2="334.5" y2="225.2" stroke="#b2b2b2" stroke-width="1.15"/>
<line x1="334.5" y1="173" x2="334.5" y2="225.2" stroke="#222" stroke-width="1" stroke-dasharray="1 1" stroke-opacity="0.78"/>
<line x1="351.2" y1="172.6" x2="351.2" y2="225.2" stroke="#b2b2b2" stroke-width="1.15"/>
<line x1="351.2" y1="173" x2="351.2" y2="225.2" stroke="#222" stroke-width="1" stroke-dasharray="1 1" stroke-opacity="0.78"/>
<line x1="367.9" y1="172.6" x2="367.9" y2="225.2" stroke="#b2b2b2" stroke-width="1.15"/>
<line x1="367.9" y1="173" x2="367.9" y2="225.2" stroke="#222" stroke-width="1" stroke-dasharray="1 1" stroke-opacity="0.78"/>
<line x1="384.1" y1="172.6" x2="384.1" y2="225.2" stroke="#b2b2b2" stroke-width="1.15"/>
<line x1="384.1" y1="173" x2="384.1" y2="225.2" stroke="#222" stroke-width="1" stroke-dasharray="1 1" stroke-opacity="0.78"/>
<line x1="399.7" y1="172.6" x2="399.7" y2="225.2" stroke="#b2b2b2" stroke-width="1.15"/>
<line x1="399.7" y1="173" x2="399.7" y2="225.2" stroke="#222" stroke-width="1" stroke-dasharray="1 1" stroke-opacity="0.78"/>
<line x1="416.1" y1="172.6" x2="416.1" y2="225.2" stroke="#b2b2b2" stroke-width="1.15"/>
<line x1="416.1" y1="173" x2="416.1" y2="225.2" stroke="#222" stroke-width="1" stroke-dasharray="1 1" stroke-opacity="0.78"/>
<line x1="427.7" y1="172.6" x2="427.7" y2="225.2" stroke="#b2b2b2" stroke-width="1.15"/>
<line x1="427.7" y1="173" x2="427.7" y2="225.2" stroke="#222" stroke-width="1" stroke-dasharray="1 1" stroke-opacity="0.78"/>
<line x1="438.3" y1="172.6" x2="438.3" y2="225.2" stroke="#b2b2b2" stroke-width="1.15"/>
<line x1="438.3" y1="173" x2="438.3" y2="225.2" stroke="#222" stroke-width="1" stroke-dasharray="1 1" stroke-opacity="0.78"/>
<line x1="450.9" y1="172.6" x2="450.9" y2="225.2" stroke="#b2b2b2" stroke-width="1.15"/>
<line x1="450.9" y1="173" x2="450.9" y2="225.2" stroke="#222" stroke-width="1" stroke-dasharray="1 1" stroke-opacity="0.78"/>
<line x1="459.5" y1="172.6" x2="459.5" y2="225.2" stroke="#b2b2b2" stroke-width="1.15"/>
<line x1="459.5" y1="173" x2="459.5" y2="225.2" stroke="#222" stroke-width="1" stroke-dasharray="1 1" stroke-opacity="0.78"/>
<line x1="466.4" y1="172.6" x2="466.4" y2="225.2" stroke="#b2b2b2" stroke-width="1.15"/>
<line x1="466.4" y1="173" x2="466.4" y2="225.2" stroke="#222" stroke-width="1" stroke-dasharray="1 1" stroke-opacity="0.78"/>
<line x1="473.6" y1="172.6" x2="473.6" y2="225.2" stroke="#b2b2b2" stroke-width="1.15"/>
<line x1="473.6" y1="173" x2="473.6" y2="225.2" stroke="#222" stroke-width="1" stroke-dasharray="1 1" stroke-opacity="0.78"/>
<line x1="487.4" y1="172.6" x2="487.4" y2="225.2" stroke="#b2b2b2" stroke-width="1.15"/>
<line x1="487.4" y1="173" x2="487.4" y2="225.2" stroke="#222" stroke-width="1" stroke-dasharray="1 1" stroke-opacity="0.78"/>
<line x1="502.7" y1="173" x2="502.7" y2="225.2" stroke="#222" stroke-width="1.5" stroke-dasharray="1 1" stroke-opacity="0.85"/>
<rect x="64.9" y="168.8" width="1.4" height="56.6" fill="#111"/>
<rect x="61.6" y="171.95" width="3.4" height="1.1" fill="#111"/>
<text x="57.6" y="175.4" font-size="8.2" text-anchor="end" fill="#1a1a1a" textLength="15.3" lengthAdjust="spacingAndGlyphs"  stroke="#1a1a1a" stroke-width="0.15">0 %</text>
<rect x="61.6" y="181.7" width="3.4" height="1.1" fill="#111"/>
<text x="57.6" y="185.15" font-size="8.2" text-anchor="end" fill="#1a1a1a" textLength="21" lengthAdjust="spacingAndGlyphs"  stroke="#1a1a1a" stroke-width="0.15">10 %</text>
<rect x="61.6" y="191.45" width="3.4" height="1.1" fill="#111"/>
<text x="57.6" y="194.9" font-size="8.2" text-anchor="end" fill="#1a1a1a" textLength="21" lengthAdjust="spacingAndGlyphs"  stroke="#1a1a1a" stroke-width="0.15">20 %</text>
<rect x="61.6" y="201.2" width="3.4" height="1.1" fill="#111"/>
<text x="57.6" y="204.65" font-size="8.2" text-anchor="end" fill="#1a1a1a" textLength="21" lengthAdjust="spacingAndGlyphs"  stroke="#1a1a1a" stroke-width="0.15">30 %</text>
<rect x="61.6" y="210.95" width="3.4" height="1.1" fill="#111"/>
<text x="57.6" y="214.4" font-size="8.2" text-anchor="end" fill="#1a1a1a" textLength="21" lengthAdjust="spacingAndGlyphs"  stroke="#1a1a1a" stroke-width="0.15">40 %</text>
<rect x="61.6" y="220.7" width="3.4" height="1.1" fill="#111"/>
<text x="57.6" y="224.15" font-size="8.2" text-anchor="end" fill="#1a1a1a" textLength="21" lengthAdjust="spacingAndGlyphs"  stroke="#1a1a1a" stroke-width="0.15">50 %</text>
<text x="0" y="0" font-size="10" text-anchor="middle" fill="#1a1a1a" font-weight="bold" textLength="31.5" lengthAdjust="spacingAndGlyphs" transform="translate(33.8 197) rotate(-90)" stroke="#1a1a1a" stroke-width="0.15">CNN-LOH</text>
<polyline points="68.45,172.5 68.45,198.14 71,198.14 71.3,189.76 72.3,183.81 73.1,180.88 74.2,177.96 75.4,175.91 81.15,175.72 81.75,174.25 84.66,173.96 85.86,172.5" fill="none" stroke="#4c1d6e" stroke-width="1" stroke-linejoin="miter"/>
<polyline points="88.67,172.5 90.08,173.77 92.8,175.43 94.5,175.72 94.7,178.94 97,178.94 97.3,175.72 100.3,175.72 100.5,177.38 102.6,177.38 103.1,175.43 109.5,175.43 110.1,173.87 117,173.67 117,172.99 138.3,172.99 138.3,173.47 142,173.47 142.5,174.94 144,173.47 150,173.47 150.5,174.45 158,174.45 158,172.99 166.5,172.99 168,172.5 169,175.91 170,172.5 180,172.5 180,173.96 183,173.96 184,175.91 186,176.89 187,174.94 189,174.94 189,172.99 200.5,172.99 200.5,177.38 206,177.38 206,176.4 208,176.4 208,177.38 217.2,177.38 217.2,174.94 219.5,174.94 219.8,189.07 223.3,189.07 223.8,186.15 224.3,181.28 226,177.38 227.3,174.94 227.75,173.47 237,173.47 237.4,175.91 245.5,175.91 246,178.35 252.5,178.64 252.5,175.91 255.6,175.91 255.6,177.38 260.6,177.38 260.6,179.03 265.7,179.03 266,175.43 271.8,175.43 272.5,177.38 273.5,177.38 273.8,175.43 292,175.43 292.5,173.47 307.2,173.47 307.6,172.5" fill="none" stroke="#4c1d6e" stroke-width="1" stroke-linejoin="miter"/>
<polyline points="346.5,172.5 347,174.94 348.5,174.94 349,172.5 351.5,172.5 351.6,174.94 356.7,174.94 356.7,176.89 363.7,176.89 363.7,179.03 365.2,179.03 365.3,172.5" fill="none" stroke="#4c1d6e" stroke-width="1" stroke-linejoin="miter"/>
<polyline points="368.8,172.5 368.8,174.45 370,175.91 371,174.45 372.8,175.91 372.8,176.89 376,176.89 376.9,179.03 377.5,176.89 378.9,176.89 379.9,175.91 381.5,175.91 382,172.5" fill="none" stroke="#4c1d6e" stroke-width="1" stroke-linejoin="miter"/>
<polyline points="384.9,172.5 384.9,175.43 389.6,175.43 389.6,172.5" fill="none" stroke="#4c1d6e" stroke-width="1" stroke-linejoin="miter"/>
<polyline points="399.3,172.5 400.2,172.99 404.1,175.91 405.1,179.13 408,179.13 408.9,176.79 410.8,176.79 411.8,175.43 412.3,193.46 412.8,193.46 414.5,185.18 416,178.35 417.5,173.47 419.9,172.99 421.8,177.47 423.7,172.99 425.7,177.47 427,177.47 428.6,174.21 430.5,172.5 436.9,172.5 436.9,174.65 444.6,174.65 444.6,172.5 447.9,172.5 448.4,172.79 449.8,177.47 450.9,172.99 452.3,176.69 453.7,173.67 454.8,172.5 458,172.5 458,174.45 463,174.45 463,172.5 472.6,172.5 472.6,174.45 478.4,174.45 478.4,172.5" fill="none" stroke="#4c1d6e" stroke-width="1" stroke-linejoin="miter"/>
<polyline points="68.4,172.5 68.4,211.79 69,207.6 69.8,203.02 70.5,196.88 71.2,191.03 72,189.07 72.5,188.29 73.5,186.15 74.5,183.52 76,183.52 76.5,182.25 79.2,180.88 80,178.35 81.2,175.52 83,174.45 84,173.47 86,172.5" fill="none" stroke="#b3123c" stroke-width="1" stroke-linejoin="miter"/>
<polyline points="88.6,172.5 89.6,176.4 90.7,179.52 93.3,179.52 93.8,180.88 94.3,179.52 103.5,179.52 103.5,172.5" fill="none" stroke="#b3123c" stroke-width="1" stroke-linejoin="miter"/>
<polyline points="103.5,172.5 104,174.94 105,172.5" fill="none" stroke="#b3123c" stroke-width="1" stroke-linejoin="miter"/>
<polyline points="116,172.5 116,174.94 118,174.94 118,172.5" fill="none" stroke="#b3123c" stroke-width="1" stroke-linejoin="miter"/>
<polyline points="127,172.5 127,174.94 131,174.94 131,172.5" fill="none" stroke="#b3123c" stroke-width="1" stroke-linejoin="miter"/>
<polyline points="167.5,172.5 168.5,175.91 169.5,172.5" fill="none" stroke="#b3123c" stroke-width="1" stroke-linejoin="miter"/>
<polyline points="179.5,172.5 180,174.45 184,174.45 185,176.4 186.5,174.45 189,174.45 189,172.5" fill="none" stroke="#b3123c" stroke-width="1" stroke-linejoin="miter"/>
<polyline points="204,172.5 204,173.96 207,173.96 207,172.99 210,172.99 210,173.96 215,173.96 215,172.5" fill="none" stroke="#b3123c" stroke-width="1" stroke-linejoin="miter"/>
<polyline points="221.3,172.5 221.3,173.47 223.3,177.38 224.3,182.25 225.3,177.38 226.5,174.45 227.3,173.47 227.75,172.5" fill="none" stroke="#b3123c" stroke-width="1" stroke-linejoin="miter"/>
<polyline points="231.4,172.5 231.4,173.47 239.5,173.47 239.5,172.5" fill="none" stroke="#b3123c" stroke-width="1" stroke-linejoin="miter"/>
<polyline points="248.5,172.5 248.5,177.38 250.5,177.38 250.5,172.5" fill="none" stroke="#b3123c" stroke-width="1" stroke-linejoin="miter"/>
<polyline points="264.5,172.5 264.5,173.96 265.5,173.96 265.5,172.5" fill="none" stroke="#b3123c" stroke-width="1" stroke-linejoin="miter"/>
<polyline points="270.7,172.5 270.7,173.96 272,173.96 272,172.5" fill="none" stroke="#b3123c" stroke-width="1" stroke-linejoin="miter"/>
<polyline points="323.3,172.5 323.3,173.96 326.7,173.96 326.7,172.5" fill="none" stroke="#b3123c" stroke-width="1" stroke-linejoin="miter"/>
<polyline points="328.4,172.5 328.4,173.96 333.4,173.96 333.4,172.5" fill="none" stroke="#b3123c" stroke-width="1" stroke-linejoin="miter"/>
<polyline points="360.7,172.5 360.7,173.47 363.7,173.47 363.7,172.5" fill="none" stroke="#b3123c" stroke-width="1" stroke-linejoin="miter"/>
<polyline points="373,172.5 373,173.96 377,173.96 377,172.5" fill="none" stroke="#b3123c" stroke-width="1" stroke-linejoin="miter"/>
<polyline points="385,172.5 385,173.96 389,173.96 389,172.5" fill="none" stroke="#b3123c" stroke-width="1" stroke-linejoin="miter"/>
<polyline points="417.5,172.5 417.5,173.96 424,175.43 424,172.5" fill="none" stroke="#b3123c" stroke-width="1" stroke-linejoin="miter"/>
<polyline points="429,172.5 429,175.91 435.6,175.91 435.6,172.5" fill="none" stroke="#b3123c" stroke-width="1" stroke-linejoin="miter"/>
<polyline points="438,172.5 438,173.96 446,173.96 446,172.5" fill="none" stroke="#b3123c" stroke-width="1" stroke-linejoin="miter"/>
<polyline points="452,172.5 452,174.45 455,174.45 455,172.5" fill="none" stroke="#b3123c" stroke-width="1" stroke-linejoin="miter"/>
<polyline points="459.5,172.5 459.5,173.96 463.5,173.96 463.5,172.5" fill="none" stroke="#b3123c" stroke-width="1" stroke-linejoin="miter"/>
<polyline points="467,172.5 467,173.96 470.5,173.96 470.5,172.5" fill="none" stroke="#b3123c" stroke-width="1" stroke-linejoin="miter"/>
<polyline points="473.5,172.5 473.5,175.43 475,175.43 475.5,173.47 477.5,173.47 477.5,172.5" fill="none" stroke="#b3123c" stroke-width="1" stroke-linejoin="miter"/>
<line x1="103.5" y1="172.6" x2="103.5" y2="225.2" stroke="#111" stroke-width="1"/>
<line x1="138.3" y1="172.6" x2="138.3" y2="225.2" stroke="#111" stroke-width="1"/>
<line x1="166.5" y1="172.6" x2="166.5" y2="225.2" stroke="#111" stroke-width="1"/>
<line x1="193.7" y1="172.6" x2="193.7" y2="225.2" stroke="#111" stroke-width="1"/>
<line x1="219.5" y1="172.6" x2="219.5" y2="225.2" stroke="#111" stroke-width="1"/>
<line x1="243.75" y1="172.6" x2="243.75" y2="225.2" stroke="#111" stroke-width="1"/>
<line x1="267" y1="172.6" x2="267" y2="225.2" stroke="#111" stroke-width="1"/>
<line x1="287.5" y1="172.6" x2="287.5" y2="225.2" stroke="#111" stroke-width="1"/>
<line x1="307.6" y1="172.6" x2="307.6" y2="225.2" stroke="#111" stroke-width="1"/>
<line x1="326.7" y1="172.6" x2="326.7" y2="225.2" stroke="#111" stroke-width="1"/>
<line x1="346" y1="172.6" x2="346" y2="225.2" stroke="#111" stroke-width="1"/>
<line x1="365.3" y1="172.6" x2="365.3" y2="225.2" stroke="#111" stroke-width="1"/>
<line x1="382" y1="172.6" x2="382" y2="225.2" stroke="#111" stroke-width="1"/>
<line x1="396.8" y1="172.6" x2="396.8" y2="225.2" stroke="#111" stroke-width="1"/>
<line x1="411.8" y1="172.6" x2="411.8" y2="225.2" stroke="#111" stroke-width="1"/>
<line x1="424.3" y1="172.6" x2="424.3" y2="225.2" stroke="#111" stroke-width="1"/>
<line x1="436" y1="172.6" x2="436" y2="225.2" stroke="#111" stroke-width="1"/>
<line x1="447.2" y1="172.6" x2="447.2" y2="225.2" stroke="#111" stroke-width="1"/>
<line x1="455.6" y1="172.6" x2="455.6" y2="225.2" stroke="#111" stroke-width="1"/>
<line x1="464.1" y1="172.6" x2="464.1" y2="225.2" stroke="#111" stroke-width="1"/>
<line x1="471.3" y1="172.6" x2="471.3" y2="225.2" stroke="#111" stroke-width="1"/>
<line x1="478.5" y1="172.6" x2="478.5" y2="225.2" stroke="#111" stroke-width="1"/>
</g>
<g id="B">
<rect x="72" y="256.7" width="35.88" height="139.6" fill="#e7e7e7"/>
<rect x="107.58" y="256.7" width="34.98" height="139.6" fill="#e7e7e7"/>
<rect x="109.08" y="256.7" width="32.98" height="139.6" fill="#d5d3d7"/>
<rect x="142.25" y="256.7" width="28.4" height="139.6" fill="#e7e7e7"/>
<rect x="170.35" y="256.7" width="27.4" height="139.6" fill="#e7e7e7"/>
<rect x="171.85" y="256.7" width="25.4" height="139.6" fill="#d5d3d7"/>
<rect x="197.46" y="256.7" width="26.01" height="139.6" fill="#e7e7e7"/>
<rect x="223.17" y="256.7" width="24.47" height="139.6" fill="#e7e7e7"/>
<rect x="224.67" y="256.7" width="22.47" height="139.6" fill="#d5d3d7"/>
<rect x="247.33" y="256.7" width="23.47" height="139.6" fill="#e7e7e7"/>
<rect x="270.5" y="256.7" width="20.73" height="139.6" fill="#e7e7e7"/>
<rect x="272" y="256.7" width="18.73" height="139.6" fill="#d5d3d7"/>
<rect x="290.93" y="256.7" width="20.33" height="139.6" fill="#e7e7e7"/>
<rect x="310.96" y="256.7" width="19.33" height="139.6" fill="#e7e7e7"/>
<rect x="312.46" y="256.7" width="17.33" height="139.6" fill="#d5d3d7"/>
<rect x="329.99" y="256.7" width="19.53" height="139.6" fill="#e7e7e7"/>
<rect x="349.23" y="256.7" width="19.53" height="139.6" fill="#e7e7e7"/>
<rect x="350.73" y="256.7" width="17.53" height="139.6" fill="#d5d3d7"/>
<rect x="368.46" y="256.7" width="16.94" height="139.6" fill="#e7e7e7"/>
<rect x="385.1" y="256.7" width="15.05" height="139.6" fill="#e7e7e7"/>
<rect x="386.6" y="256.7" width="13.05" height="139.6" fill="#d5d3d7"/>
<rect x="399.85" y="256.7" width="15.25" height="139.6" fill="#e7e7e7"/>
<rect x="414.8" y="256.7" width="12.76" height="139.6" fill="#e7e7e7"/>
<rect x="420.08" y="256.7" width="6.97" height="139.6" fill="#d5d3d7"/>
<rect x="427.25" y="256.7" width="11.96" height="139.6" fill="#e7e7e7"/>
<rect x="438.91" y="256.7" width="11.46" height="139.6" fill="#e7e7e7"/>
<rect x="442.2" y="256.7" width="7.67" height="139.6" fill="#d5d3d7"/>
<rect x="450.07" y="256.7" width="8.67" height="139.6" fill="#e7e7e7"/>
<rect x="458.44" y="256.7" width="8.77" height="139.6" fill="#e7e7e7"/>
<rect x="463.33" y="256.7" width="3.38" height="139.6" fill="#d5d3d7"/>
<rect x="466.91" y="256.7" width="7.47" height="139.6" fill="#e7e7e7"/>
<rect x="474.09" y="256.7" width="7.47" height="139.6" fill="#e7e7e7"/>
<rect x="477.38" y="256.7" width="3.68" height="139.6" fill="#d5d3d7"/>
<rect x="481.26" y="256.7" width="21.72" height="139.6" fill="#e7e7e7"/>
<rect x="502.69" y="256.7" width="9.37" height="139.6" fill="#d5d3d7"/>
<rect x="503.19" y="256.7" width="1.15" height="139.6" fill="#151515"/>
<rect x="504.44" y="256.7" width="1.9" height="139.6" fill="#909090"/>
<rect x="119.73" y="256.7" width="2.6" height="139.6" fill="#e7e7e7"/>
<rect x="175.93" y="256.7" width="2.6" height="139.6" fill="#e7e7e7"/>
<rect x="230.09" y="256.7" width="2.6" height="139.6" fill="#e7e7e7"/>
<rect x="275.18" y="256.7" width="2.6" height="139.6" fill="#e7e7e7"/>
<rect x="315.04" y="256.7" width="2.6" height="139.6" fill="#e7e7e7"/>
<rect x="353.11" y="256.7" width="2.6" height="139.6" fill="#e7e7e7"/>
<rect x="385.89" y="256.7" width="2.6" height="139.6" fill="#e7e7e7"/>
<rect x="417.78" y="256.7" width="2.6" height="139.6" fill="#e7e7e7"/>
<rect x="439.9" y="256.7" width="2.6" height="139.6" fill="#e7e7e7"/>
<rect x="461.03" y="256.7" width="2.6" height="139.6" fill="#e7e7e7"/>
<rect x="475.08" y="256.7" width="2.6" height="139.6" fill="#e7e7e7"/>
<line x1="90.14" y1="256.7" x2="90.14" y2="396.3" stroke="#b2b2b2" stroke-width="1.15"/>
<line x1="90.14" y1="257" x2="90.14" y2="396.3" stroke="#222" stroke-width="1" stroke-dasharray="1 1" stroke-opacity="0.78"/>
<line x1="121.03" y1="256.7" x2="121.03" y2="396.3" stroke="#b2b2b2" stroke-width="1.15"/>
<line x1="121.03" y1="257" x2="121.03" y2="396.3" stroke="#222" stroke-width="1" stroke-dasharray="1 1" stroke-opacity="0.78"/>
<line x1="154.61" y1="256.7" x2="154.61" y2="396.3" stroke="#b2b2b2" stroke-width="1.15"/>
<line x1="154.61" y1="257" x2="154.61" y2="396.3" stroke="#222" stroke-width="1" stroke-dasharray="1 1" stroke-opacity="0.78"/>
<line x1="177.23" y1="256.7" x2="177.23" y2="396.3" stroke="#b2b2b2" stroke-width="1.15"/>
<line x1="177.23" y1="257" x2="177.23" y2="396.3" stroke="#222" stroke-width="1" stroke-dasharray="1 1" stroke-opacity="0.78"/>
<line x1="204.24" y1="256.7" x2="204.24" y2="396.3" stroke="#b2b2b2" stroke-width="1.15"/>
<line x1="204.24" y1="257" x2="204.24" y2="396.3" stroke="#222" stroke-width="1" stroke-dasharray="1 1" stroke-opacity="0.78"/>
<line x1="231.39" y1="256.7" x2="231.39" y2="396.3" stroke="#b2b2b2" stroke-width="1.15"/>
<line x1="231.39" y1="257" x2="231.39" y2="396.3" stroke="#222" stroke-width="1" stroke-dasharray="1 1" stroke-opacity="0.78"/>
<line x1="256.05" y1="256.7" x2="256.05" y2="396.3" stroke="#b2b2b2" stroke-width="1.15"/>
<line x1="256.05" y1="257" x2="256.05" y2="396.3" stroke="#222" stroke-width="1" stroke-dasharray="1 1" stroke-opacity="0.78"/>
<line x1="276.48" y1="256.7" x2="276.48" y2="396.3" stroke="#b2b2b2" stroke-width="1.15"/>
<line x1="276.48" y1="257" x2="276.48" y2="396.3" stroke="#222" stroke-width="1" stroke-dasharray="1 1" stroke-opacity="0.78"/>
<line x1="297.81" y1="256.7" x2="297.81" y2="396.3" stroke="#b2b2b2" stroke-width="1.15"/>
<line x1="297.81" y1="257" x2="297.81" y2="396.3" stroke="#222" stroke-width="1" stroke-dasharray="1 1" stroke-opacity="0.78"/>
<line x1="316.34" y1="256.7" x2="316.34" y2="396.3" stroke="#b2b2b2" stroke-width="1.15"/>
<line x1="316.34" y1="257" x2="316.34" y2="396.3" stroke="#222" stroke-width="1" stroke-dasharray="1 1" stroke-opacity="0.78"/>
<line x1="337.77" y1="256.7" x2="337.77" y2="396.3" stroke="#b2b2b2" stroke-width="1.15"/>
<line x1="337.77" y1="257" x2="337.77" y2="396.3" stroke="#222" stroke-width="1" stroke-dasharray="1 1" stroke-opacity="0.78"/>
<line x1="354.41" y1="256.7" x2="354.41" y2="396.3" stroke="#b2b2b2" stroke-width="1.15"/>
<line x1="354.41" y1="257" x2="354.41" y2="396.3" stroke="#222" stroke-width="1" stroke-dasharray="1 1" stroke-opacity="0.78"/>
<line x1="371.05" y1="256.7" x2="371.05" y2="396.3" stroke="#b2b2b2" stroke-width="1.15"/>
<line x1="371.05" y1="257" x2="371.05" y2="396.3" stroke="#222" stroke-width="1" stroke-dasharray="1 1" stroke-opacity="0.78"/>
<line x1="387.19" y1="256.7" x2="387.19" y2="396.3" stroke="#b2b2b2" stroke-width="1.15"/>
<line x1="387.19" y1="257" x2="387.19" y2="396.3" stroke="#222" stroke-width="1" stroke-dasharray="1 1" stroke-opacity="0.78"/>
<line x1="402.74" y1="256.7" x2="402.74" y2="396.3" stroke="#b2b2b2" stroke-width="1.15"/>
<line x1="402.74" y1="257" x2="402.74" y2="396.3" stroke="#222" stroke-width="1" stroke-dasharray="1 1" stroke-opacity="0.78"/>
<line x1="419.08" y1="256.7" x2="419.08" y2="396.3" stroke="#b2b2b2" stroke-width="1.15"/>
<line x1="419.08" y1="257" x2="419.08" y2="396.3" stroke="#222" stroke-width="1" stroke-dasharray="1 1" stroke-opacity="0.78"/>
<line x1="430.64" y1="256.7" x2="430.64" y2="396.3" stroke="#b2b2b2" stroke-width="1.15"/>
<line x1="430.64" y1="257" x2="430.64" y2="396.3" stroke="#222" stroke-width="1" stroke-dasharray="1 1" stroke-opacity="0.78"/>
<line x1="441.2" y1="256.7" x2="441.2" y2="396.3" stroke="#b2b2b2" stroke-width="1.15"/>
<line x1="441.2" y1="257" x2="441.2" y2="396.3" stroke="#222" stroke-width="1" stroke-dasharray="1 1" stroke-opacity="0.78"/>
<line x1="453.76" y1="256.7" x2="453.76" y2="396.3" stroke="#b2b2b2" stroke-width="1.15"/>
<line x1="453.76" y1="257" x2="453.76" y2="396.3" stroke="#222" stroke-width="1" stroke-dasharray="1 1" stroke-opacity="0.78"/>
<line x1="462.33" y1="256.7" x2="462.33" y2="396.3" stroke="#b2b2b2" stroke-width="1.15"/>
<line x1="462.33" y1="257" x2="462.33" y2="396.3" stroke="#222" stroke-width="1" stroke-dasharray="1 1" stroke-opacity="0.78"/>
<line x1="469.2" y1="256.7" x2="469.2" y2="396.3" stroke="#b2b2b2" stroke-width="1.15"/>
<line x1="469.2" y1="257" x2="469.2" y2="396.3" stroke="#222" stroke-width="1" stroke-dasharray="1 1" stroke-opacity="0.78"/>
<line x1="476.38" y1="256.7" x2="476.38" y2="396.3" stroke="#b2b2b2" stroke-width="1.15"/>
<line x1="476.38" y1="257" x2="476.38" y2="396.3" stroke="#222" stroke-width="1" stroke-dasharray="1 1" stroke-opacity="0.78"/>
<line x1="490.13" y1="256.7" x2="490.13" y2="396.3" stroke="#b2b2b2" stroke-width="1.15"/>
<line x1="490.13" y1="257" x2="490.13" y2="396.3" stroke="#222" stroke-width="1" stroke-dasharray="1 1" stroke-opacity="0.78"/>
<line x1="505.39" y1="257" x2="505.39" y2="396.3" stroke="#222" stroke-width="1.5" stroke-dasharray="1 1" stroke-opacity="0.85"/>
<rect x="68.4" y="256.7" width="1.5" height="139.9" fill="#111"/>
<rect x="65.4" y="390.15" width="3" height="1.1" fill="#111"/>
<text x="61.4" y="393.7" font-size="8.4" text-anchor="end" fill="#1a1a1a" textLength="20.6" lengthAdjust="spacingAndGlyphs"  stroke="#1a1a1a" stroke-width="0.15">60 %</text>
<rect x="65.4" y="379.45" width="3" height="1.1" fill="#111"/>
<text x="61.4" y="383" font-size="8.4" text-anchor="end" fill="#1a1a1a" textLength="20.6" lengthAdjust="spacingAndGlyphs"  stroke="#1a1a1a" stroke-width="0.15">50 %</text>
<rect x="65.4" y="368.75" width="3" height="1.1" fill="#111"/>
<text x="61.4" y="372.3" font-size="8.4" text-anchor="end" fill="#1a1a1a" textLength="20.6" lengthAdjust="spacingAndGlyphs"  stroke="#1a1a1a" stroke-width="0.15">40 %</text>
<rect x="65.4" y="358.05" width="3" height="1.1" fill="#111"/>
<text x="61.4" y="361.6" font-size="8.4" text-anchor="end" fill="#1a1a1a" textLength="20.6" lengthAdjust="spacingAndGlyphs"  stroke="#1a1a1a" stroke-width="0.15">30 %</text>
<rect x="65.4" y="347.35" width="3" height="1.1" fill="#111"/>
<text x="61.4" y="350.9" font-size="8.4" text-anchor="end" fill="#1a1a1a" textLength="20.6" lengthAdjust="spacingAndGlyphs"  stroke="#1a1a1a" stroke-width="0.15">20 %</text>
<rect x="65.4" y="336.65" width="3" height="1.1" fill="#111"/>
<text x="61.4" y="340.2" font-size="8.4" text-anchor="end" fill="#1a1a1a" textLength="20.6" lengthAdjust="spacingAndGlyphs"  stroke="#1a1a1a" stroke-width="0.15">10 %</text>
<rect x="65.4" y="325.95" width="3" height="1.1" fill="#111"/>
<text x="61.4" y="329.5" font-size="8.4" text-anchor="end" fill="#1a1a1a" textLength="15" lengthAdjust="spacingAndGlyphs"  stroke="#1a1a1a" stroke-width="0.15">0 %</text>
<rect x="65.4" y="315.25" width="3" height="1.1" fill="#111"/>
<text x="61.4" y="318.8" font-size="8.4" text-anchor="end" fill="#1a1a1a" textLength="20.6" lengthAdjust="spacingAndGlyphs"  stroke="#1a1a1a" stroke-width="0.15">10 %</text>
<rect x="65.4" y="304.55" width="3" height="1.1" fill="#111"/>
<text x="61.4" y="308.1" font-size="8.4" text-anchor="end" fill="#1a1a1a" textLength="20.6" lengthAdjust="spacingAndGlyphs"  stroke="#1a1a1a" stroke-width="0.15">20 %</text>
<rect x="65.4" y="293.85" width="3" height="1.1" fill="#111"/>
<text x="61.4" y="297.4" font-size="8.4" text-anchor="end" fill="#1a1a1a" textLength="20.6" lengthAdjust="spacingAndGlyphs"  stroke="#1a1a1a" stroke-width="0.15">30 %</text>
<rect x="65.4" y="283.15" width="3" height="1.1" fill="#111"/>
<text x="61.4" y="286.7" font-size="8.4" text-anchor="end" fill="#1a1a1a" textLength="20.6" lengthAdjust="spacingAndGlyphs"  stroke="#1a1a1a" stroke-width="0.15">40 %</text>
<rect x="65.4" y="272.45" width="3" height="1.1" fill="#111"/>
<text x="61.4" y="276" font-size="8.4" text-anchor="end" fill="#1a1a1a" textLength="20.6" lengthAdjust="spacingAndGlyphs"  stroke="#1a1a1a" stroke-width="0.15">50 %</text>
<rect x="65.4" y="261.75" width="3" height="1.1" fill="#111"/>
<text x="61.4" y="265.3" font-size="8.4" text-anchor="end" fill="#1a1a1a" textLength="20.6" lengthAdjust="spacingAndGlyphs"  stroke="#1a1a1a" stroke-width="0.15">60 %</text>
<text x="0" y="0" font-size="11.4" text-anchor="middle" fill="#1a1a1a" textLength="84" lengthAdjust="spacingAndGlyphs" transform="translate(33.4 326) rotate(-90)" stroke="#1a1a1a" stroke-width="0.35">Copy number alteration</text>
<polyline points="92.8,326.5 92.8,311.09 95.9,311.09 95.9,315.05 98.8,315.05 98.8,317.4 101.6,317.4 101.6,320.83 104,320.83 104,323.18 110.4,323.18 110.4,320.83 115.4,320.83 115.4,314.52 116.4,314.52 116.4,320.83 120.2,320.83 120.5,326.5" fill="none" stroke="#6dae3f" stroke-width="1" stroke-linejoin="miter"/>
<polyline points="142.5,326.5 142.5,308.2 156.4,308.2 156.4,305.1 159.5,305.1 159.5,302 163.5,302 163.5,299 170.75,299 170.75,326.5" fill="none" stroke="#6dae3f" stroke-width="1" stroke-linejoin="miter"/>
<polyline points="197.9,326.5 197.9,323.82 200.2,323.82 200.4,320.72 200.9,320.72 201.1,323.82 226.9,323.82 226.9,320.4 229.2,320.4 229.2,323.5 231.5,323.5 231.5,326.5" fill="none" stroke="#6dae3f" stroke-width="1" stroke-linejoin="miter"/>
<polyline points="235.4,326.5 235.4,323.5 240.8,323.5 240.8,326.5" fill="none" stroke="#6dae3f" stroke-width="1" stroke-linejoin="miter"/>
<polyline points="257.7,326.5 257.7,323.5 258.5,323.5 258.5,317.3 259.6,317.3 259.6,322.22 260.4,322.22 260.4,317.3 261.2,317.3 261.2,322.22 262,322.22 262,317.3 263.8,317.3 263.8,326.5" fill="none" stroke="#6dae3f" stroke-width="1" stroke-linejoin="miter"/>
<polyline points="280,326.5 280,323.5 291.7,323.5 291.7,326.5" fill="none" stroke="#6dae3f" stroke-width="1" stroke-linejoin="miter"/>
<polyline points="293.8,326.5 293.8,317.3 294.4,325.43 295,317.3 295.6,325.43 296.2,317.3 296.2,326.5" fill="none" stroke="#6dae3f" stroke-width="1" stroke-linejoin="miter"/>
<polyline points="300,326.5 300.2,317.83 302.5,317.83 302.5,319.01 303.3,319.01 303.3,317.19 306,317.19 306.2,314.73 310.8,314.73 310.8,326.5" fill="none" stroke="#6dae3f" stroke-width="1" stroke-linejoin="miter"/>
<polyline points="321.7,326.5 321.7,323.5 329.4,323.5 329.4,326.5" fill="none" stroke="#6dae3f" stroke-width="1" stroke-linejoin="miter"/>
<polyline points="338.8,326.5 338.9,323.5 343,323.5 343.5,320.08 349.3,320.08 349.3,310.24 355.2,310.24 356,307.99 368.3,307.99 368.3,326.5" fill="none" stroke="#6dae3f" stroke-width="1" stroke-linejoin="miter"/>
<polyline points="371,326.5 371,323.5 384.5,323.5 384.5,326.5" fill="none" stroke="#6dae3f" stroke-width="1" stroke-linejoin="miter"/>
<polyline points="420,326.5 420,323.82 433,323.82 433.8,317.83 439,317.83 439.3,310.88 440.6,310.88 441,305.63 442.2,305.63 442.6,296.97 443.8,296.97 444.2,292.69 445.2,292.69 445.6,290.12 450,290.12 450,326.5" fill="none" stroke="#6dae3f" stroke-width="1" stroke-linejoin="miter"/>
<polyline points="469.8,326.5 469.8,324.79 471.5,324.79 471.5,321.26 473,321.26 473,326.5" fill="none" stroke="#6dae3f" stroke-width="1" stroke-linejoin="miter"/>
<polyline points="72.6,326.5 72.6,342.01 73.9,342.01 73.9,333.45 75,333.45 75,338.16 76.8,338.16 76.8,330.78 77.6,330.78 77.6,326.5" fill="none" stroke="#6dae3f" stroke-width="1" stroke-linejoin="miter"/>
<polyline points="81.8,326.5 81.8,330.14 83,330.14 83,326.5" fill="none" stroke="#6dae3f" stroke-width="1" stroke-linejoin="miter"/>
<polyline points="85.9,326.5 85.9,331.85 87.6,331.85 87.6,326.5" fill="none" stroke="#6dae3f" stroke-width="1" stroke-linejoin="miter"/>
<polyline points="94,326.5 94,331.85 95.7,331.85 95.7,326.5" fill="none" stroke="#6dae3f" stroke-width="1" stroke-linejoin="miter"/>
<polyline points="112.4,326.5 112.4,328.85 113.2,328.85 113.2,326.5" fill="none" stroke="#6dae3f" stroke-width="1" stroke-linejoin="miter"/>
<polyline points="122.2,326.5 122.2,331.85 128,331.85 128,326.5" fill="none" stroke="#6dae3f" stroke-width="1" stroke-linejoin="miter"/>
<polyline points="168.5,326.5 168.5,330.25 170.75,330.25 170.75,326.5" fill="none" stroke="#6dae3f" stroke-width="1" stroke-linejoin="miter"/>
<polyline points="180.5,326.5 180.5,330.25 184,330.99 184,326.5" fill="none" stroke="#6dae3f" stroke-width="1" stroke-linejoin="miter"/>
<polyline points="231.5,326.5 231.5,329.6 243,329.6 243,333.45 244.6,333.45 244.6,330.78 245.4,334.52 246.2,330.78 247,334.52 247.7,333.45 247.7,326.5" fill="none" stroke="#6dae3f" stroke-width="1" stroke-linejoin="miter"/>
<polyline points="251.5,326.5 251.5,328.21 255.4,328.21 255.4,326.5" fill="none" stroke="#6dae3f" stroke-width="1" stroke-linejoin="miter"/>
<polyline points="256.4,326.5 256.4,328.85 260,328.85 260,326.5" fill="none" stroke="#6dae3f" stroke-width="1" stroke-linejoin="miter"/>
<polyline points="263.8,326.5 263.8,335.27 267,335.27 267,330.78 269.2,330.78 269.2,326.5" fill="none" stroke="#6dae3f" stroke-width="1" stroke-linejoin="miter"/>
<polyline points="270.8,326.5 270.8,329.6 273.8,329.6 273.8,326.5" fill="none" stroke="#6dae3f" stroke-width="1" stroke-linejoin="miter"/>
<polyline points="279.2,326.5 279.2,332.71 280.8,332.71 280.8,326.5" fill="none" stroke="#6dae3f" stroke-width="1" stroke-linejoin="miter"/>
<polyline points="291.7,326.5 291.7,334.2 293.8,334.2 293.8,326.5" fill="none" stroke="#6dae3f" stroke-width="1" stroke-linejoin="miter"/>
<polyline points="313,326.5 313,329.92 316,329.92 316,326.5" fill="none" stroke="#6dae3f" stroke-width="1" stroke-linejoin="miter"/>
<polyline points="318.8,326.5 318.8,329.6 321.7,329.6 321.7,326.5" fill="none" stroke="#6dae3f" stroke-width="1" stroke-linejoin="miter"/>
<polyline points="329.4,326.5 329.4,329.92 331.3,329.92 331.3,326.5" fill="none" stroke="#6dae3f" stroke-width="1" stroke-linejoin="miter"/>
<polyline points="370.2,326.5 370.2,333.45 371.2,333.45 371.2,326.5" fill="none" stroke="#6dae3f" stroke-width="1" stroke-linejoin="miter"/>
<polyline points="372.7,326.5 372.7,331.64 376.5,331.64 376.5,326.5" fill="none" stroke="#6dae3f" stroke-width="1" stroke-linejoin="miter"/>
<polyline points="395.8,326.5 395.8,331.64 397.5,331.64 398.4,338.59 399.6,338.59 399.6,326.5" fill="none" stroke="#6dae3f" stroke-width="1" stroke-linejoin="miter"/>
<polyline points="402.7,326.5 402.7,332.6 405.3,332.6 405.8,336.02 406.3,329.71 409.6,329.92 413,329.92 413,326.5" fill="none" stroke="#6dae3f" stroke-width="1" stroke-linejoin="miter"/>
<polyline points="426.9,326.5 426.9,331.64 429.5,331.64 429.5,326.5" fill="none" stroke="#6dae3f" stroke-width="1" stroke-linejoin="miter"/>
<polyline points="451.6,326.5 451.6,331.64 452.5,336.88 453.4,329.71 453.4,326.5" fill="none" stroke="#6dae3f" stroke-width="1" stroke-linejoin="miter"/>
<polyline points="72.2,326.5 88.74,326.5 88.74,324.36 89.64,321.58 90.44,321.58 90.44,326.5 92.83,326.5 92.83,290.12 93.52,288.19 94.02,291.19 94.52,288.19 95.42,289.05 96.61,292.26 98.11,296 100.1,299 104.09,299 106.08,299.43 107.58,297.61" fill="none" stroke="#4c1d6e" stroke-width="1" stroke-linejoin="miter"/>
<polyline points="107.58,310.13 116.05,310.13 116.05,300.07 116.64,300.07 116.64,311.52 117.74,316.12 121.03,316.12 121.03,314.73 128.3,314.73 129.5,312.06 130.99,310.13 133.48,310.13 133.48,307.88 137.57,307.88 138.47,310.13 140.56,310.13 140.56,312.8 142.25,312.8" fill="none" stroke="#4c1d6e" stroke-width="1" stroke-linejoin="miter"/>
<polyline points="142.25,315.05 154.91,315.05 154.91,315.91 158.89,315.91 158.89,316.87 161.88,316.87 161.88,315.91 163.88,315.05 170.35,315.05 170.35,326.5" fill="none" stroke="#4c1d6e" stroke-width="1" stroke-linejoin="miter"/>
<polyline points="170.35,326.5 171.85,324.89 174.84,324.89 174.84,326.5 182.31,326.5 182.31,322.22 186.5,322.22 186.5,323.93 188.99,323.93 188.99,326.5 197.46,326.5" fill="none" stroke="#4c1d6e" stroke-width="1" stroke-linejoin="miter"/>
<polyline points="197.46,315.91 202.74,315.91 202.74,314.73 204.24,314.73 204.24,320.08 210.51,320.08 210.51,317.4 212.21,317.4 213.2,315.8 218.19,315.8 218.19,317.4 223.17,317.4" fill="none" stroke="#4c1d6e" stroke-width="1" stroke-linejoin="miter"/>
<polyline points="223.17,316.87 225.66,316.87 225.66,317.94 226.86,317.94 227.16,314.94 227.75,312.38 228.45,312.38 228.95,316.87 229.95,317.94 230.64,320.72 231.64,326.5 247.33,326.5" fill="none" stroke="#4c1d6e" stroke-width="1" stroke-linejoin="miter"/>
<polyline points="247.33,316.87 250.07,316.87 250.07,318.48 253.56,318.48 255.56,315.16 258.54,315.16 259.04,320.62 260.54,320.62 260.54,317.19 262.53,317.19 263.03,320.62 266.02,320.62 266.02,316.33 270.5,316.33" fill="none" stroke="#4c1d6e" stroke-width="1" stroke-linejoin="miter"/>
<polyline points="270.5,311.2 274.99,311.2 275.98,308.52 277.98,308.52 278.47,305.74 281.46,305.74 281.96,303.17 283.46,303.17 283.96,300.61 285.45,300.61 285.95,297.61 286.95,296.11 290.93,296.11" fill="none" stroke="#4c1d6e" stroke-width="1" stroke-linejoin="miter"/>
<polyline points="290.93,316.33 299.6,316.33 300.4,311.52 300.9,305.1 302.39,304.78 309.37,304.78 310.36,304.03 310.96,304.03" fill="none" stroke="#4c1d6e" stroke-width="1" stroke-linejoin="miter"/>
<polyline points="310.96,326.5 316.34,326.5 317.54,323.72 318.93,323.72 319.23,322.22 322.72,322.22 323.02,320.62 323.72,320.62 324.01,322.22 329.2,322.22 329.99,322.22" fill="none" stroke="#4c1d6e" stroke-width="1" stroke-linejoin="miter"/>
<polyline points="329.99,310.88 331.99,310.88 332.78,307.03 333.78,307.03 335.28,310.88 337.77,316.87 338.76,318.58 343.75,318.58 345.24,316.01 346.74,313.45 349.23,313.45" fill="none" stroke="#4c1d6e" stroke-width="1" stroke-linejoin="miter"/>
<polyline points="349.23,311.2 352.71,311.2 353.21,307.24 355.21,307.24 355.7,287.98 357.7,287.98 358.69,292.26 360.69,288.51 362.18,292.8 364.17,288.51 365.67,292.8 367.16,291.19 368.46,291.19" fill="none" stroke="#4c1d6e" stroke-width="1" stroke-linejoin="miter"/>
<polyline points="368.46,326.5 371.65,326.5 371.65,323.82 373.64,323.82 373.64,321.15 379.12,321.15 379.62,316.87 380.62,316.87 381.11,321.15 385.1,321.15" fill="none" stroke="#4c1d6e" stroke-width="1" stroke-linejoin="miter"/>
<polyline points="399.85,326.5 403.04,326.5 403.04,324.89 410.01,324.89 410.01,326.5 414.8,326.5" fill="none" stroke="#4c1d6e" stroke-width="1" stroke-linejoin="miter"/>
<polyline points="414.8,323.82 417.98,323.82 418.48,324.36 421.97,324.36 422.97,322.22 427.25,322.22" fill="none" stroke="#4c1d6e" stroke-width="1" stroke-linejoin="miter"/>
<polyline points="427.25,322.22 430.64,322.22 431.44,316.87 432.93,316.87 433.43,314.41 435.42,314.41 435.92,312.59 437.91,312.59 438.41,315.26 438.91,315.26" fill="none" stroke="#4c1d6e" stroke-width="1" stroke-linejoin="miter"/>
<polyline points="438.91,318.58 443.4,318.58 443.89,315.8 446.39,315.8 446.88,312.59 450.07,312.59" fill="none" stroke="#4c1d6e" stroke-width="1" stroke-linejoin="miter"/>
<polyline points="450.07,326.5 450.37,323.82 451.87,323.82 452.36,320.62 454.36,320.62 454.86,323.82 457.84,323.82" fill="none" stroke="#4c1d6e" stroke-width="1" stroke-linejoin="miter"/>
<polyline points="458.44,324.57 466.91,324.57" fill="none" stroke="#4c1d6e" stroke-width="1" stroke-linejoin="miter"/>
<polyline points="466.91,326.5 469.3,326.5 469.8,321.15 471.3,321.15 471.8,317.94 472.79,317.94 473.29,315.26 474.09,315.26 474.09,326.5" fill="none" stroke="#4c1d6e" stroke-width="1" stroke-linejoin="miter"/>
<polyline points="474.09,326.5 475.78,326.5 476.28,321.69 477.77,321.69 478.27,322.97 480.76,322.97 480.76,326.5" fill="none" stroke="#4c1d6e" stroke-width="1" stroke-linejoin="miter"/>
<polyline points="496.21,326.5 496.21,324.57 498.7,324.57 498.7,326.5" fill="none" stroke="#4c1d6e" stroke-width="1" stroke-linejoin="miter"/>
<polyline points="72.6,357 73,347.9 73.89,339.34 75.19,336.13 76.48,334.52 79.17,333.45 79.67,331.85 82.16,331.85 82.66,330.25 85.15,330.25 85.65,329.18 88.14,328.64 90.14,326.5 92.63,327.78 94.12,327.78 94.42,329.18 95.62,329.18 96.12,326.5 100.1,326.5 101.1,329.71 103.09,329.71 104.09,326.5 107.58,326.5" fill="none" stroke="#4c1d6e" stroke-width="1" stroke-linejoin="miter"/>
<polyline points="107.58,326.5 118.04,326.5 118.54,329.18 120.53,329.18 121.03,326.5 142.25,326.5" fill="none" stroke="#4c1d6e" stroke-width="1" stroke-linejoin="miter"/>
<polyline points="142.25,326.5 158.89,326.5 159.39,329.18 161.39,327.78 162.88,329.71 164.87,328.64 166.87,329.18 169.86,329.18 170.35,326.5" fill="none" stroke="#4c1d6e" stroke-width="1" stroke-linejoin="miter"/>
<polyline points="175.34,326.5 175.34,328.43 177.83,328.43 177.83,326.5 179.52,326.5 180.02,331.85 181.62,331.85 182.11,326.5" fill="none" stroke="#4c1d6e" stroke-width="1" stroke-linejoin="miter"/>
<polyline points="208.22,326.5 208.72,328.43 209.22,326.5" fill="none" stroke="#4c1d6e" stroke-width="1" stroke-linejoin="miter"/>
<polyline points="223.17,330.67 227.06,330.67 227.55,334.95 228.45,334.95 228.95,330.67 231.4,330.67 231.94,336.13 233.23,339.34 234.63,339.88 235.63,338.81 236.62,341.91 238.42,340.2 239.61,341.48 241.01,344.48 242.1,345.23 243.5,348.44 244.59,347.37 246.09,341.91 247.33,341.91" fill="none" stroke="#4c1d6e" stroke-width="1" stroke-linejoin="miter"/>
<polyline points="256.05,326.5 256.55,328.64 258.54,328.64 259.04,330.25 260.04,330.25 260.54,327.78 263.53,327.78 264.03,331.31 265.02,331.31 265.52,327.78 266.52,329.18 267.51,327.78 270.5,327.78" fill="none" stroke="#4c1d6e" stroke-width="1" stroke-linejoin="miter"/>
<polyline points="270.5,331.31 272.5,331.31 272.99,330.25 275.98,330.25 276.48,326.5 290.93,326.5" fill="none" stroke="#4c1d6e" stroke-width="1" stroke-linejoin="miter"/>
<polyline points="290.93,330.25 292.43,330.25 292.92,332.92 293.92,335.06 294.42,331.85 295.42,330.25 297.41,329.71 297.81,326.5 310.96,326.5" fill="none" stroke="#4c1d6e" stroke-width="1" stroke-linejoin="miter"/>
<polyline points="310.96,329.92 312.36,329.92 312.85,331.31 314.35,331.31 314.85,329.92 316.34,329.92 316.84,331.31 319.83,331.31 320.33,333.24 323.32,333.24 323.62,337.2 324.21,344.69 324.81,339.88 325.81,335.06 326.31,338.81 327.3,336.13 328.3,333.24 329.3,329.71 329.99,329.18" fill="none" stroke="#4c1d6e" stroke-width="1" stroke-linejoin="miter"/>
<polyline points="339.26,326.5 339.76,329.71 340.76,329.71 341.25,326.5" fill="none" stroke="#4c1d6e" stroke-width="1" stroke-linejoin="miter"/>
<polyline points="347.73,326.5 348.23,330.25 349.23,330.25" fill="none" stroke="#4c1d6e" stroke-width="1" stroke-linejoin="miter"/>
<polyline points="355.5,326.5 355.8,328.64 356.2,326.5" fill="none" stroke="#4c1d6e" stroke-width="1" stroke-linejoin="miter"/>
<polyline points="363.48,326.5 363.78,328.21 364.17,326.5" fill="none" stroke="#4c1d6e" stroke-width="1" stroke-linejoin="miter"/>
<polyline points="371.65,326.5 371.65,331.31 373.14,331.31 373.64,333.24 374.64,333.24 375.14,330.35 378.62,330.35 379.12,329.39 384.6,329.39 385.1,326.5" fill="none" stroke="#4c1d6e" stroke-width="1" stroke-linejoin="miter"/>
<polyline points="395.56,326.5 396.06,328.32 397.56,328.32 398.05,330.78 399.55,330.78 399.85,326.5" fill="none" stroke="#4c1d6e" stroke-width="1" stroke-linejoin="miter"/>
<polyline points="404.53,326.5 405.03,328.85 409.51,328.85 410.01,330.35 410.51,330.35 411.01,328.43 414.8,328.43" fill="none" stroke="#4c1d6e" stroke-width="1" stroke-linejoin="miter"/>
<polyline points="414.8,333.99 416.49,333.99 416.99,329.71 417.49,326.5" fill="none" stroke="#4c1d6e" stroke-width="1" stroke-linejoin="miter"/>
<polyline points="427.25,333.99 430.44,333.99 430.64,326.5" fill="none" stroke="#4c1d6e" stroke-width="1" stroke-linejoin="miter"/>
<polyline points="438.91,330.35 440.9,330.35 441.2,326.5 445.39,326.5 445.89,329.39 448.38,329.39 448.88,326.5" fill="none" stroke="#4c1d6e" stroke-width="1" stroke-linejoin="miter"/>
<polyline points="476.58,326.5 476.78,329.39 478.27,329.39 478.47,326.5" fill="none" stroke="#4c1d6e" stroke-width="1" stroke-linejoin="miter"/>
<rect x="72" y="326" width="440.05" height="1" fill="#2f6b3a"/>
<line x1="107.58" y1="256.7" x2="107.58" y2="396.3" stroke="#111" stroke-width="1"/>
<line x1="142.25" y1="256.7" x2="142.25" y2="396.3" stroke="#111" stroke-width="1"/>
<line x1="170.35" y1="256.7" x2="170.35" y2="396.3" stroke="#111" stroke-width="1"/>
<line x1="197.46" y1="256.7" x2="197.46" y2="396.3" stroke="#111" stroke-width="1"/>
<line x1="223.17" y1="256.7" x2="223.17" y2="396.3" stroke="#111" stroke-width="1"/>
<line x1="247.33" y1="256.7" x2="247.33" y2="396.3" stroke="#111" stroke-width="1"/>
<line x1="270.5" y1="256.7" x2="270.5" y2="396.3" stroke="#111" stroke-width="1"/>
<line x1="290.93" y1="256.7" x2="290.93" y2="396.3" stroke="#111" stroke-width="1"/>
<line x1="310.96" y1="256.7" x2="310.96" y2="396.3" stroke="#111" stroke-width="1"/>
<line x1="329.99" y1="256.7" x2="329.99" y2="396.3" stroke="#111" stroke-width="1"/>
<line x1="349.23" y1="256.7" x2="349.23" y2="396.3" stroke="#111" stroke-width="1"/>
<line x1="368.46" y1="256.7" x2="368.46" y2="396.3" stroke="#111" stroke-width="1"/>
<line x1="385.1" y1="256.7" x2="385.1" y2="396.3" stroke="#111" stroke-width="1"/>
<line x1="399.85" y1="256.7" x2="399.85" y2="396.3" stroke="#111" stroke-width="1"/>
<line x1="414.8" y1="256.7" x2="414.8" y2="396.3" stroke="#111" stroke-width="1"/>
<line x1="427.25" y1="256.7" x2="427.25" y2="396.3" stroke="#111" stroke-width="1"/>
<line x1="438.91" y1="256.7" x2="438.91" y2="396.3" stroke="#111" stroke-width="1"/>
<line x1="450.07" y1="256.7" x2="450.07" y2="396.3" stroke="#111" stroke-width="1"/>
<line x1="458.44" y1="256.7" x2="458.44" y2="396.3" stroke="#111" stroke-width="1"/>
<line x1="466.91" y1="256.7" x2="466.91" y2="396.3" stroke="#111" stroke-width="1"/>
<line x1="474.09" y1="256.7" x2="474.09" y2="396.3" stroke="#111" stroke-width="1"/>
<line x1="481.26" y1="256.7" x2="481.26" y2="396.3" stroke="#111" stroke-width="1"/>
<text x="90.14" y="408.2" font-size="8.8" text-anchor="middle" fill="#1a1a1a"  stroke="#1a1a1a" stroke-width="0.15">1</text>
<text x="125.11" y="405.5" font-size="8.8" text-anchor="middle" fill="#1a1a1a"  stroke="#1a1a1a" stroke-width="0.15">2</text>
<text x="156.21" y="408.2" font-size="8.8" text-anchor="middle" fill="#1a1a1a"  stroke="#1a1a1a" stroke-width="0.15">3</text>
<text x="184.31" y="405.5" font-size="8.8" text-anchor="middle" fill="#1a1a1a"  stroke="#1a1a1a" stroke-width="0.15">4</text>
<text x="209.82" y="408.2" font-size="8.8" text-anchor="middle" fill="#1a1a1a"  stroke="#1a1a1a" stroke-width="0.15">5</text>
<text x="235.23" y="405.5" font-size="8.8" text-anchor="middle" fill="#1a1a1a"  stroke="#1a1a1a" stroke-width="0.15">6</text>
<text x="258.84" y="408.2" font-size="8.8" text-anchor="middle" fill="#1a1a1a"  stroke="#1a1a1a" stroke-width="0.15">7</text>
<text x="280.57" y="405.5" font-size="8.8" text-anchor="middle" fill="#1a1a1a"  stroke="#1a1a1a" stroke-width="0.15">8</text>
<text x="301.2" y="408.2" font-size="8.8" text-anchor="middle" fill="#1a1a1a"  stroke="#1a1a1a" stroke-width="0.15">9</text>
<text x="322.02" y="405.5" font-size="8.8" text-anchor="middle" fill="#1a1a1a"  stroke="#1a1a1a" stroke-width="0.15">10</text>
<text x="339.86" y="408.2" font-size="8.8" text-anchor="middle" fill="#1a1a1a"  stroke="#1a1a1a" stroke-width="0.15">11</text>
<text x="359.69" y="405.5" font-size="8.8" text-anchor="middle" fill="#1a1a1a"  stroke="#1a1a1a" stroke-width="0.15">12</text>
<text x="377.73" y="408.2" font-size="8.8" text-anchor="middle" fill="#1a1a1a"  stroke="#1a1a1a" stroke-width="0.15">13</text>
<text x="392.87" y="405.5" font-size="8.8" text-anchor="middle" fill="#1a1a1a"  stroke="#1a1a1a" stroke-width="0.15">14</text>
<text x="409.22" y="408.2" font-size="8.8" text-anchor="middle" fill="#1a1a1a"  stroke="#1a1a1a" stroke-width="0.15">15</text>
<text x="422.87" y="405.5" font-size="8.8" text-anchor="middle" fill="#1a1a1a"  stroke="#1a1a1a" stroke-width="0.15">16</text>
<text x="433.93" y="408.2" font-size="8.8" text-anchor="middle" fill="#1a1a1a"  stroke="#1a1a1a" stroke-width="0.15">17</text>
<text x="444.99" y="405.5" font-size="8.8" text-anchor="middle" fill="#1a1a1a"  stroke="#1a1a1a" stroke-width="0.15">18</text>
<text x="455.35" y="408.2" font-size="8.8" text-anchor="middle" fill="#1a1a1a"  stroke="#1a1a1a" stroke-width="0.15">19</text>
<text x="463.63" y="405.5" font-size="8.8" text-anchor="middle" fill="#1a1a1a"  stroke="#1a1a1a" stroke-width="0.15">20</text>
<text x="470.6" y="408.2" font-size="8.8" text-anchor="middle" fill="#1a1a1a"  stroke="#1a1a1a" stroke-width="0.15">21</text>
<text x="480.07" y="405.5" font-size="8.8" text-anchor="middle" fill="#1a1a1a"  stroke="#1a1a1a" stroke-width="0.15">22</text>
<text x="493.62" y="407.3" font-size="8.8" text-anchor="middle" fill="#1a1a1a"  stroke="#1a1a1a" stroke-width="0.15">X</text>
<text x="509.07" y="406.3" font-size="8.8" text-anchor="middle" fill="#1a1a1a"  stroke="#1a1a1a" stroke-width="0.15">Y</text>
<text x="75.2" y="292.4" font-size="10.4" text-anchor="start" fill="#5a2a80" textLength="51" lengthAdjust="spacingAndGlyphs" transform="rotate(-25.3 75.2 292.4)" >+1q21.2-q44</text>
<text x="124.5" y="303" font-size="10.4" text-anchor="start" fill="#5a2a80" textLength="57" lengthAdjust="spacingAndGlyphs" transform="rotate(-25.3 124.5 303)" >+2q22.2-q37.3</text>
<text x="273.5" y="291.5" font-size="10.4" text-anchor="start" fill="#5a2a80" textLength="9.5" lengthAdjust="spacingAndGlyphs" transform="rotate(-25.3 273.5 291.5)" >+8</text>
<text x="305.5" y="297" font-size="10.4" text-anchor="start" fill="#5a2a80" textLength="52" lengthAdjust="spacingAndGlyphs" transform="rotate(-25.3 305.5 297)" >+9q13-q21.11</text>
<text x="316.5" y="305.3" font-size="10.4" text-anchor="start" fill="#5a2a80" textLength="53.5" lengthAdjust="spacingAndGlyphs" transform="rotate(-25.3 316.5 305.3)" >+11p15.2-p13</text>
<text x="439" y="288" font-size="10.4" text-anchor="start" fill="#74b54a" textLength="20.5" lengthAdjust="spacingAndGlyphs" transform="rotate(-25.3 439 288)" >+18q</text>
<text x="77" y="373.5" font-size="10.4" text-anchor="start" fill="#5a2a80" textLength="33" lengthAdjust="spacingAndGlyphs" transform="rotate(-25.3 77 373.5)" >-1p36.33</text>
<text x="202.5" y="375.5" font-size="10.4" text-anchor="start" fill="#5a2a80" textLength="45" lengthAdjust="spacingAndGlyphs" transform="rotate(-25.3 202.5 375.5)" >-6q13-q14.2</text>
<text x="240" y="369" font-size="10.4" text-anchor="start" fill="#5a2a80" textLength="45.5" lengthAdjust="spacingAndGlyphs" transform="rotate(-25.3 240 369)" >-6q21-q24.3</text>
<text x="305.5" y="368" font-size="10.4" text-anchor="start" fill="#5a2a80" textLength="55" lengthAdjust="spacingAndGlyphs" transform="rotate(-25.3 305.5 368)" >-10q23.1-q24.2</text>
<rect x="68.6" y="243.6" width="5.6" height="5.5" fill="#4c1d6e"/>
<text x="78" y="249.3" font-size="8.4" text-anchor="start" fill="#1a1a1a" textLength="85.3" lengthAdjust="spacingAndGlyphs"  stroke="#1a1a1a" stroke-width="0.15">t(14;18)-neg FL n=53</text>
<rect x="214.2" y="243.6" width="5.6" height="5.5" fill="#6dae3f"/>
<text x="225.8" y="249.3" font-size="8.4" text-anchor="start" fill="#1a1a1a" textLength="48.5" lengthAdjust="spacingAndGlyphs"  stroke="#1a1a1a" stroke-width="0.15">NMZL n=35</text>
<text x="340.2" y="249.3" font-size="8.4" text-anchor="start" fill="#1a1a1a" textLength="130.5" lengthAdjust="spacingAndGlyphs"  stroke="#1a1a1a" stroke-width="0.15">7.2 vs 5.2 alterations/case; P=.02</text>
<text x="8.6" y="248.2" font-size="12.6" text-anchor="start" fill="#000" font-weight="bold" textLength="8.9" lengthAdjust="spacingAndGlyphs" stroke="#000" stroke-width="0.35">B</text>
<rect x="72" y="415.1" width="35.88" height="61.1" fill="#e7e7e7"/>
<rect x="107.58" y="415.1" width="34.98" height="61.1" fill="#e7e7e7"/>
<rect x="109.08" y="415.1" width="32.98" height="61.1" fill="#d5d3d7"/>
<rect x="142.25" y="415.1" width="28.4" height="61.1" fill="#e7e7e7"/>
<rect x="170.35" y="415.1" width="27.4" height="61.1" fill="#e7e7e7"/>
<rect x="171.85" y="415.1" width="25.4" height="61.1" fill="#d5d3d7"/>
<rect x="197.46" y="415.1" width="26.01" height="61.1" fill="#e7e7e7"/>
<rect x="223.17" y="415.1" width="24.47" height="61.1" fill="#e7e7e7"/>
<rect x="224.67" y="415.1" width="22.47" height="61.1" fill="#d5d3d7"/>
<rect x="247.33" y="415.1" width="23.47" height="61.1" fill="#e7e7e7"/>
<rect x="270.5" y="415.1" width="20.73" height="61.1" fill="#e7e7e7"/>
<rect x="272" y="415.1" width="18.73" height="61.1" fill="#d5d3d7"/>
<rect x="290.93" y="415.1" width="20.33" height="61.1" fill="#e7e7e7"/>
<rect x="310.96" y="415.1" width="19.33" height="61.1" fill="#e7e7e7"/>
<rect x="312.46" y="415.1" width="17.33" height="61.1" fill="#d5d3d7"/>
<rect x="329.99" y="415.1" width="19.53" height="61.1" fill="#e7e7e7"/>
<rect x="349.23" y="415.1" width="19.53" height="61.1" fill="#e7e7e7"/>
<rect x="350.73" y="415.1" width="17.53" height="61.1" fill="#d5d3d7"/>
<rect x="368.46" y="415.1" width="16.94" height="61.1" fill="#e7e7e7"/>
<rect x="385.1" y="415.1" width="15.05" height="61.1" fill="#e7e7e7"/>
<rect x="386.6" y="415.1" width="13.05" height="61.1" fill="#d5d3d7"/>
<rect x="399.85" y="415.1" width="15.25" height="61.1" fill="#e7e7e7"/>
<rect x="414.8" y="415.1" width="12.76" height="61.1" fill="#e7e7e7"/>
<rect x="420.08" y="415.1" width="6.97" height="61.1" fill="#d5d3d7"/>
<rect x="427.25" y="415.1" width="11.96" height="61.1" fill="#e7e7e7"/>
<rect x="438.91" y="415.1" width="11.46" height="61.1" fill="#e7e7e7"/>
<rect x="442.2" y="415.1" width="7.67" height="61.1" fill="#d5d3d7"/>
<rect x="450.07" y="415.1" width="8.67" height="61.1" fill="#e7e7e7"/>
<rect x="458.44" y="415.1" width="8.77" height="61.1" fill="#e7e7e7"/>
<rect x="463.33" y="415.1" width="3.38" height="61.1" fill="#d5d3d7"/>
<rect x="466.91" y="415.1" width="7.47" height="61.1" fill="#e7e7e7"/>
<rect x="474.09" y="415.1" width="7.47" height="61.1" fill="#e7e7e7"/>
<rect x="477.38" y="415.1" width="3.68" height="61.1" fill="#d5d3d7"/>
<rect x="481.26" y="415.1" width="21.72" height="61.1" fill="#e7e7e7"/>
<rect x="502.69" y="415.1" width="9.37" height="61.1" fill="#d5d3d7"/>
<rect x="503.19" y="415.1" width="1.15" height="61.1" fill="#151515"/>
<rect x="504.44" y="415.1" width="1.9" height="61.1" fill="#909090"/>
<rect x="119.73" y="415.1" width="2.6" height="61.1" fill="#e7e7e7"/>
<rect x="175.93" y="415.1" width="2.6" height="61.1" fill="#e7e7e7"/>
<rect x="230.09" y="415.1" width="2.6" height="61.1" fill="#e7e7e7"/>
<rect x="275.18" y="415.1" width="2.6" height="61.1" fill="#e7e7e7"/>
<rect x="315.04" y="415.1" width="2.6" height="61.1" fill="#e7e7e7"/>
<rect x="353.11" y="415.1" width="2.6" height="61.1" fill="#e7e7e7"/>
<rect x="385.89" y="415.1" width="2.6" height="61.1" fill="#e7e7e7"/>
<rect x="417.78" y="415.1" width="2.6" height="61.1" fill="#e7e7e7"/>
<rect x="439.9" y="415.1" width="2.6" height="61.1" fill="#e7e7e7"/>
<rect x="461.03" y="415.1" width="2.6" height="61.1" fill="#e7e7e7"/>
<rect x="475.08" y="415.1" width="2.6" height="61.1" fill="#e7e7e7"/>
<line x1="90.14" y1="415.1" x2="90.14" y2="476.2" stroke="#b2b2b2" stroke-width="1.15"/>
<line x1="90.14" y1="415" x2="90.14" y2="476.2" stroke="#222" stroke-width="1" stroke-dasharray="1 1" stroke-opacity="0.78"/>
<line x1="121.03" y1="415.1" x2="121.03" y2="476.2" stroke="#b2b2b2" stroke-width="1.15"/>
<line x1="121.03" y1="415" x2="121.03" y2="476.2" stroke="#222" stroke-width="1" stroke-dasharray="1 1" stroke-opacity="0.78"/>
<line x1="154.61" y1="415.1" x2="154.61" y2="476.2" stroke="#b2b2b2" stroke-width="1.15"/>
<line x1="154.61" y1="415" x2="154.61" y2="476.2" stroke="#222" stroke-width="1" stroke-dasharray="1 1" stroke-opacity="0.78"/>
<line x1="177.23" y1="415.1" x2="177.23" y2="476.2" stroke="#b2b2b2" stroke-width="1.15"/>
<line x1="177.23" y1="415" x2="177.23" y2="476.2" stroke="#222" stroke-width="1" stroke-dasharray="1 1" stroke-opacity="0.78"/>
<line x1="204.24" y1="415.1" x2="204.24" y2="476.2" stroke="#b2b2b2" stroke-width="1.15"/>
<line x1="204.24" y1="415" x2="204.24" y2="476.2" stroke="#222" stroke-width="1" stroke-dasharray="1 1" stroke-opacity="0.78"/>
<line x1="231.39" y1="415.1" x2="231.39" y2="476.2" stroke="#b2b2b2" stroke-width="1.15"/>
<line x1="231.39" y1="415" x2="231.39" y2="476.2" stroke="#222" stroke-width="1" stroke-dasharray="1 1" stroke-opacity="0.78"/>
<line x1="256.05" y1="415.1" x2="256.05" y2="476.2" stroke="#b2b2b2" stroke-width="1.15"/>
<line x1="256.05" y1="415" x2="256.05" y2="476.2" stroke="#222" stroke-width="1" stroke-dasharray="1 1" stroke-opacity="0.78"/>
<line x1="276.48" y1="415.1" x2="276.48" y2="476.2" stroke="#b2b2b2" stroke-width="1.15"/>
<line x1="276.48" y1="415" x2="276.48" y2="476.2" stroke="#222" stroke-width="1" stroke-dasharray="1 1" stroke-opacity="0.78"/>
<line x1="297.81" y1="415.1" x2="297.81" y2="476.2" stroke="#b2b2b2" stroke-width="1.15"/>
<line x1="297.81" y1="415" x2="297.81" y2="476.2" stroke="#222" stroke-width="1" stroke-dasharray="1 1" stroke-opacity="0.78"/>
<line x1="316.34" y1="415.1" x2="316.34" y2="476.2" stroke="#b2b2b2" stroke-width="1.15"/>
<line x1="316.34" y1="415" x2="316.34" y2="476.2" stroke="#222" stroke-width="1" stroke-dasharray="1 1" stroke-opacity="0.78"/>
<line x1="337.77" y1="415.1" x2="337.77" y2="476.2" stroke="#b2b2b2" stroke-width="1.15"/>
<line x1="337.77" y1="415" x2="337.77" y2="476.2" stroke="#222" stroke-width="1" stroke-dasharray="1 1" stroke-opacity="0.78"/>
<line x1="354.41" y1="415.1" x2="354.41" y2="476.2" stroke="#b2b2b2" stroke-width="1.15"/>
<line x1="354.41" y1="415" x2="354.41" y2="476.2" stroke="#222" stroke-width="1" stroke-dasharray="1 1" stroke-opacity="0.78"/>
<line x1="371.05" y1="415.1" x2="371.05" y2="476.2" stroke="#b2b2b2" stroke-width="1.15"/>
<line x1="371.05" y1="415" x2="371.05" y2="476.2" stroke="#222" stroke-width="1" stroke-dasharray="1 1" stroke-opacity="0.78"/>
<line x1="387.19" y1="415.1" x2="387.19" y2="476.2" stroke="#b2b2b2" stroke-width="1.15"/>
<line x1="387.19" y1="415" x2="387.19" y2="476.2" stroke="#222" stroke-width="1" stroke-dasharray="1 1" stroke-opacity="0.78"/>
<line x1="402.74" y1="415.1" x2="402.74" y2="476.2" stroke="#b2b2b2" stroke-width="1.15"/>
<line x1="402.74" y1="415" x2="402.74" y2="476.2" stroke="#222" stroke-width="1" stroke-dasharray="1 1" stroke-opacity="0.78"/>
<line x1="419.08" y1="415.1" x2="419.08" y2="476.2" stroke="#b2b2b2" stroke-width="1.15"/>
<line x1="419.08" y1="415" x2="419.08" y2="476.2" stroke="#222" stroke-width="1" stroke-dasharray="1 1" stroke-opacity="0.78"/>
<line x1="430.64" y1="415.1" x2="430.64" y2="476.2" stroke="#b2b2b2" stroke-width="1.15"/>
<line x1="430.64" y1="415" x2="430.64" y2="476.2" stroke="#222" stroke-width="1" stroke-dasharray="1 1" stroke-opacity="0.78"/>
<line x1="441.2" y1="415.1" x2="441.2" y2="476.2" stroke="#b2b2b2" stroke-width="1.15"/>
<line x1="441.2" y1="415" x2="441.2" y2="476.2" stroke="#222" stroke-width="1" stroke-dasharray="1 1" stroke-opacity="0.78"/>
<line x1="453.76" y1="415.1" x2="453.76" y2="476.2" stroke="#b2b2b2" stroke-width="1.15"/>
<line x1="453.76" y1="415" x2="453.76" y2="476.2" stroke="#222" stroke-width="1" stroke-dasharray="1 1" stroke-opacity="0.78"/>
<line x1="462.33" y1="415.1" x2="462.33" y2="476.2" stroke="#b2b2b2" stroke-width="1.15"/>
<line x1="462.33" y1="415" x2="462.33" y2="476.2" stroke="#222" stroke-width="1" stroke-dasharray="1 1" stroke-opacity="0.78"/>
<line x1="469.2" y1="415.1" x2="469.2" y2="476.2" stroke="#b2b2b2" stroke-width="1.15"/>
<line x1="469.2" y1="415" x2="469.2" y2="476.2" stroke="#222" stroke-width="1" stroke-dasharray="1 1" stroke-opacity="0.78"/>
<line x1="476.38" y1="415.1" x2="476.38" y2="476.2" stroke="#b2b2b2" stroke-width="1.15"/>
<line x1="476.38" y1="415" x2="476.38" y2="476.2" stroke="#222" stroke-width="1" stroke-dasharray="1 1" stroke-opacity="0.78"/>
<line x1="490.13" y1="415.1" x2="490.13" y2="476.2" stroke="#b2b2b2" stroke-width="1.15"/>
<line x1="490.13" y1="415" x2="490.13" y2="476.2" stroke="#222" stroke-width="1" stroke-dasharray="1 1" stroke-opacity="0.78"/>
<line x1="505.39" y1="415" x2="505.39" y2="476.2" stroke="#222" stroke-width="1.5" stroke-dasharray="1 1" stroke-opacity="0.85"/>
<rect x="68.6" y="412" width="1.4" height="64.4" fill="#111"/>
<rect x="65.4" y="414.95" width="3.4" height="1.1" fill="#111"/>
<text x="61.4" y="418.5" font-size="8.4" text-anchor="end" fill="#1a1a1a" textLength="15" lengthAdjust="spacingAndGlyphs"  stroke="#1a1a1a" stroke-width="0.15">0 %</text>
<rect x="65.4" y="426.35" width="3.4" height="1.1" fill="#111"/>
<text x="61.4" y="429.9" font-size="8.4" text-anchor="end" fill="#1a1a1a" textLength="20.6" lengthAdjust="spacingAndGlyphs"  stroke="#1a1a1a" stroke-width="0.15">10 %</text>
<rect x="65.4" y="437.75" width="3.4" height="1.1" fill="#111"/>
<text x="61.4" y="441.3" font-size="8.4" text-anchor="end" fill="#1a1a1a" textLength="20.6" lengthAdjust="spacingAndGlyphs"  stroke="#1a1a1a" stroke-width="0.15">20 %</text>
<rect x="65.4" y="449.15" width="3.4" height="1.1" fill="#111"/>
<text x="61.4" y="452.7" font-size="8.4" text-anchor="end" fill="#1a1a1a" textLength="20.6" lengthAdjust="spacingAndGlyphs"  stroke="#1a1a1a" stroke-width="0.15">30 %</text>
<rect x="65.4" y="460.55" width="3.4" height="1.1" fill="#111"/>
<text x="61.4" y="464.1" font-size="8.4" text-anchor="end" fill="#1a1a1a" textLength="20.6" lengthAdjust="spacingAndGlyphs"  stroke="#1a1a1a" stroke-width="0.15">40 %</text>
<rect x="65.4" y="471.95" width="3.4" height="1.1" fill="#111"/>
<text x="61.4" y="475.5" font-size="8.4" text-anchor="end" fill="#1a1a1a" textLength="20.6" lengthAdjust="spacingAndGlyphs"  stroke="#1a1a1a" stroke-width="0.15">50 %</text>
<text x="0" y="0" font-size="10.2" text-anchor="middle" fill="#1a1a1a" font-weight="bold" textLength="31.5" lengthAdjust="spacingAndGlyphs" transform="translate(34 444.5) rotate(-90)" stroke="#1a1a1a" stroke-width="0.15">CNN-LOH</text>
<polyline points="73.8,415.5 73.8,421.2 75.5,421.2 75.5,418.92 88.8,418.92 89.4,415.5" fill="none" stroke="#6dae3f" stroke-width="1" stroke-linejoin="miter"/>
<polyline points="93.4,415.5 93.4,424.62 94.2,424.62 94.2,418.92 110.3,418.92 110.3,415.5" fill="none" stroke="#6dae3f" stroke-width="1" stroke-linejoin="miter"/>
<polyline points="111.5,415.5 111.5,418.92 115,418.92 115,415.5" fill="none" stroke="#6dae3f" stroke-width="1" stroke-linejoin="miter"/>
<polyline points="116.2,415.5 116.2,418.69 118,418.69" fill="none" stroke="#6dae3f" stroke-width="1" stroke-linejoin="miter"/>
<polyline points="125.3,415.5 125.3,418.69 128.8,418.69 128.8,415.5" fill="none" stroke="#6dae3f" stroke-width="1" stroke-linejoin="miter"/>
<polyline points="142.5,415.5 142.5,418.69 169.7,418.69 169.7,421.54 170.75,421.54 170.75,415.5" fill="none" stroke="#6dae3f" stroke-width="1" stroke-linejoin="miter"/>
<polyline points="199,415.5 199,418.35 204,418.35 204,415.5" fill="none" stroke="#6dae3f" stroke-width="1" stroke-linejoin="miter"/>
<polyline points="215.2,415.5 215.2,418.46 217.6,418.46 217.6,415.5" fill="none" stroke="#6dae3f" stroke-width="1" stroke-linejoin="miter"/>
<polyline points="227.7,415.5 227.7,419.03 229.7,419.03 229.7,415.5" fill="none" stroke="#6dae3f" stroke-width="1" stroke-linejoin="miter"/>
<polyline points="234.4,415.5 234.4,419.03 237.4,419.03 237.8,422.57 239.8,422.57 239.8,419.95 241.9,419.95 242.5,425.65 245.5,425.65 245.5,420.52 246.5,420.52 246.5,415.5" fill="none" stroke="#6dae3f" stroke-width="1" stroke-linejoin="miter"/>
<polyline points="249.5,415.5 250,417.21 250.6,415.5" fill="none" stroke="#6dae3f" stroke-width="1" stroke-linejoin="miter"/>
<polyline points="262.7,415.5 262.7,418.46 264.7,418.46 264.7,415.5" fill="none" stroke="#6dae3f" stroke-width="1" stroke-linejoin="miter"/>
<polyline points="284.9,415.5 284.9,417.21 286.9,417.21 286.9,415.5" fill="none" stroke="#6dae3f" stroke-width="1" stroke-linejoin="miter"/>
<polyline points="294,415.5 294,417.78 296,417.78 296,415.5" fill="none" stroke="#6dae3f" stroke-width="1" stroke-linejoin="miter"/>
<polyline points="302.1,415.5 302.1,418.01 303,421.54 308.5,421.54 309.2,418.01 309.2,415.5" fill="none" stroke="#6dae3f" stroke-width="1" stroke-linejoin="miter"/>
<polyline points="323.3,415.5 323.3,418.46 327.4,418.46 327.4,415.5" fill="none" stroke="#6dae3f" stroke-width="1" stroke-linejoin="miter"/>
<polyline points="336.9,415.5 336.9,421.54 338.1,421.54 338.1,415.5" fill="none" stroke="#6dae3f" stroke-width="1" stroke-linejoin="miter"/>
<polyline points="372,415.5 372,418.69 373.8,418.69 373.8,422.11 376.9,422.11 376.9,418.69 384,418.69 384,415.5" fill="none" stroke="#6dae3f" stroke-width="1" stroke-linejoin="miter"/>
<polyline points="405.8,415.5 405.8,418.58 413.6,418.58 413.6,415.5" fill="none" stroke="#6dae3f" stroke-width="1" stroke-linejoin="miter"/>
<polyline points="415,415.5 415.4,428.95 417.5,428.95 418.5,421.2 419.3,417.32 419.3,415.5" fill="none" stroke="#6dae3f" stroke-width="1" stroke-linejoin="miter"/>
<polyline points="450,415.5 450,425.08 452,425.08 453,421.2 456.4,421.2 456.4,415.5" fill="none" stroke="#6dae3f" stroke-width="1" stroke-linejoin="miter"/>
<polyline points="472,415.5 472,417.32 473.3,417.32 473.3,415.5" fill="none" stroke="#6dae3f" stroke-width="1" stroke-linejoin="miter"/>
<polyline points="72.65,415.5 72.65,445.48 75.19,445.48 75.49,435.68 76.48,428.72 77.28,425.3 78.38,421.88 79.57,419.49 85.3,419.26 85.9,417.55 88.8,417.21 90,415.5" fill="none" stroke="#4c1d6e" stroke-width="1" stroke-linejoin="miter"/>
<polyline points="92.8,415.5 94.2,416.98 96.91,418.92 98.61,419.26 98.81,423.02 101.1,423.02 101.4,419.26 104.39,419.26 104.59,421.2 106.68,421.2 107.18,418.92 113.55,418.92 114.15,417.1 121.03,416.87 121.03,416.07 142.25,416.07 142.25,416.64 145.94,416.64 146.44,418.35 147.93,416.64 153.91,416.64 154.41,417.78 161.88,417.78 161.88,416.07 170.35,416.07 171.85,415.5 172.85,419.49 173.84,415.5 183.81,415.5 183.81,417.21 186.8,417.21 187.79,419.49 189.79,420.63 190.78,418.35 192.78,418.35 192.78,416.07 204.24,416.07 204.24,421.2 209.72,421.2 209.72,420.06 211.71,420.06 211.71,421.2 220.88,421.2 220.88,418.35 223.17,418.35 223.47,434.88 226.96,434.88 227.45,431.46 227.95,425.76 229.65,421.2 230.94,418.35 231.39,416.64 240.61,416.64 241.01,419.49 249.08,419.49 249.58,422.34 256.05,422.68 256.05,419.49 259.14,419.49 259.14,421.2 264.13,421.2 264.13,423.14 269.21,423.14 269.51,418.92 275.29,418.92 275.98,421.2 276.98,421.2 277.28,418.92 295.42,418.92 295.91,416.64 310.56,416.64 310.96,415.5" fill="none" stroke="#4c1d6e" stroke-width="1" stroke-linejoin="miter"/>
<polyline points="349.72,415.5 350.22,418.35 351.72,418.35 352.22,415.5 354.71,415.5 354.81,418.35 359.89,418.35 359.89,420.63 366.86,420.63 366.86,423.14 368.36,423.14 368.46,415.5" fill="none" stroke="#4c1d6e" stroke-width="1" stroke-linejoin="miter"/>
<polyline points="371.95,415.5 371.95,417.78 373.14,419.49 374.14,417.78 375.93,419.49 375.93,420.63 379.12,420.63 380.02,423.14 380.62,420.63 382.01,420.63 383.01,419.49 384.6,419.49 385.1,415.5" fill="none" stroke="#4c1d6e" stroke-width="1" stroke-linejoin="miter"/>
<polyline points="387.99,415.5 387.99,418.92 392.67,418.92 392.67,415.5" fill="none" stroke="#4c1d6e" stroke-width="1" stroke-linejoin="miter"/>
<polyline points="402.34,415.5 403.24,416.07 407.12,419.49 408.12,423.25 411.01,423.25 411.91,420.52 413.8,420.52 414.8,418.92 415.29,440.01 415.79,440.01 417.49,430.32 418.98,422.34 420.48,416.64 422.87,416.07 424.76,421.31 426.65,416.07 428.65,421.31 429.94,421.31 431.54,417.5 433.43,415.5 439.81,415.5 439.81,418.01 447.48,418.01 447.48,415.5 450.77,415.5 451.27,415.84 452.66,421.31 453.76,416.07 455.15,420.4 456.55,416.87 457.65,415.5 460.83,415.5 460.83,417.78 465.82,417.78 465.82,415.5 475.38,415.5 475.38,417.78 481.16,417.78 481.16,415.5" fill="none" stroke="#4c1d6e" stroke-width="1" stroke-linejoin="miter"/>
<line x1="107.58" y1="415.1" x2="107.58" y2="476.2" stroke="#111" stroke-width="1"/>
<line x1="142.25" y1="415.1" x2="142.25" y2="476.2" stroke="#111" stroke-width="1"/>
<line x1="170.35" y1="415.1" x2="170.35" y2="476.2" stroke="#111" stroke-width="1"/>
<line x1="197.46" y1="415.1" x2="197.46" y2="476.2" stroke="#111" stroke-width="1"/>
<line x1="223.17" y1="415.1" x2="223.17" y2="476.2" stroke="#111" stroke-width="1"/>
<line x1="247.33" y1="415.1" x2="247.33" y2="476.2" stroke="#111" stroke-width="1"/>
<line x1="270.5" y1="415.1" x2="270.5" y2="476.2" stroke="#111" stroke-width="1"/>
<line x1="290.93" y1="415.1" x2="290.93" y2="476.2" stroke="#111" stroke-width="1"/>
<line x1="310.96" y1="415.1" x2="310.96" y2="476.2" stroke="#111" stroke-width="1"/>
<line x1="329.99" y1="415.1" x2="329.99" y2="476.2" stroke="#111" stroke-width="1"/>
<line x1="349.23" y1="415.1" x2="349.23" y2="476.2" stroke="#111" stroke-width="1"/>
<line x1="368.46" y1="415.1" x2="368.46" y2="476.2" stroke="#111" stroke-width="1"/>
<line x1="385.1" y1="415.1" x2="385.1" y2="476.2" stroke="#111" stroke-width="1"/>
<line x1="399.85" y1="415.1" x2="399.85" y2="476.2" stroke="#111" stroke-width="1"/>
<line x1="414.8" y1="415.1" x2="414.8" y2="476.2" stroke="#111" stroke-width="1"/>
<line x1="427.25" y1="415.1" x2="427.25" y2="476.2" stroke="#111" stroke-width="1"/>
<line x1="438.91" y1="415.1" x2="438.91" y2="476.2" stroke="#111" stroke-width="1"/>
<line x1="450.07" y1="415.1" x2="450.07" y2="476.2" stroke="#111" stroke-width="1"/>
<line x1="458.44" y1="415.1" x2="458.44" y2="476.2" stroke="#111" stroke-width="1"/>
<line x1="466.91" y1="415.1" x2="466.91" y2="476.2" stroke="#111" stroke-width="1"/>
<line x1="474.09" y1="415.1" x2="474.09" y2="476.2" stroke="#111" stroke-width="1"/>
<line x1="481.26" y1="415.1" x2="481.26" y2="476.2" stroke="#111" stroke-width="1"/>
<text x="77.5" y="457" font-size="10.4" text-anchor="start" fill="#5a2a80" textLength="59" lengthAdjust="spacingAndGlyphs" transform="rotate(-25.3 77.5 457)" >1p36.33-p36.11</text>
<text x="193" y="466.2" font-size="10.4" text-anchor="start" fill="#5a2a80" textLength="54" lengthAdjust="spacingAndGlyphs" transform="rotate(-25.3 193 466.2)" >6p22.1-p21.32</text>
</g>
<g id="C">
<rect x="71.3" y="493.7" width="1.5" height="177" fill="#111"/>
<rect x="68" y="669.3" width="426.8" height="1.4" fill="#111"/>
<rect x="68" y="669.45" width="3.4" height="1.1" fill="#111"/>
<text x="63.8" y="672.9" font-size="8.2" text-anchor="end" fill="#1a1a1a" textLength="15" lengthAdjust="spacingAndGlyphs"  stroke="#1a1a1a" stroke-width="0.15">0 %</text>
<rect x="68" y="650.23" width="3.4" height="1.1" fill="#111"/>
<text x="63.8" y="653.68" font-size="8.2" text-anchor="end" fill="#1a1a1a" textLength="20.5" lengthAdjust="spacingAndGlyphs"  stroke="#1a1a1a" stroke-width="0.15">10 %</text>
<rect x="68" y="631.01" width="3.4" height="1.1" fill="#111"/>
<text x="63.8" y="634.46" font-size="8.2" text-anchor="end" fill="#1a1a1a" textLength="20.5" lengthAdjust="spacingAndGlyphs"  stroke="#1a1a1a" stroke-width="0.15">20 %</text>
<rect x="68" y="611.79" width="3.4" height="1.1" fill="#111"/>
<text x="63.8" y="615.24" font-size="8.2" text-anchor="end" fill="#1a1a1a" textLength="20.5" lengthAdjust="spacingAndGlyphs"  stroke="#1a1a1a" stroke-width="0.15">30 %</text>
<rect x="68" y="592.57" width="3.4" height="1.1" fill="#111"/>
<text x="63.8" y="596.02" font-size="8.2" text-anchor="end" fill="#1a1a1a" textLength="20.5" lengthAdjust="spacingAndGlyphs"  stroke="#1a1a1a" stroke-width="0.15">40 %</text>
<rect x="68" y="573.35" width="3.4" height="1.1" fill="#111"/>
<text x="63.8" y="576.8" font-size="8.2" text-anchor="end" fill="#1a1a1a" textLength="20.5" lengthAdjust="spacingAndGlyphs"  stroke="#1a1a1a" stroke-width="0.15">50 %</text>
<rect x="68" y="554.13" width="3.4" height="1.1" fill="#111"/>
<text x="63.8" y="557.58" font-size="8.2" text-anchor="end" fill="#1a1a1a" textLength="20.5" lengthAdjust="spacingAndGlyphs"  stroke="#1a1a1a" stroke-width="0.15">60 %</text>
<rect x="68" y="534.91" width="3.4" height="1.1" fill="#111"/>
<text x="63.8" y="538.36" font-size="8.2" text-anchor="end" fill="#1a1a1a" textLength="20.5" lengthAdjust="spacingAndGlyphs"  stroke="#1a1a1a" stroke-width="0.15">70 %</text>
<rect x="68" y="515.69" width="3.4" height="1.1" fill="#111"/>
<text x="63.8" y="519.14" font-size="8.2" text-anchor="end" fill="#1a1a1a" textLength="20.5" lengthAdjust="spacingAndGlyphs"  stroke="#1a1a1a" stroke-width="0.15">80 %</text>
<rect x="68" y="496.47" width="3.4" height="1.1" fill="#111"/>
<text x="63.8" y="499.92" font-size="8.2" text-anchor="end" fill="#1a1a1a" textLength="20.5" lengthAdjust="spacingAndGlyphs"  stroke="#1a1a1a" stroke-width="0.15">90 %</text>
<rect x="83.25" y="560.45" width="3.9" height="109.55" fill="#4c1d6e"/>
<rect x="87.12" y="646.94" width="3.9" height="23.06" fill="#e18d17"/>
<rect x="90.99" y="662.5" width="3.9" height="7.5" fill="#b3123c"/>
<rect x="98.73" y="664.23" width="3.9" height="5.77" fill="#6aaee6"/>
<text x="100.35" y="679.5" font-size="9.1" text-anchor="end" fill="#111" transform="rotate(-45 100.35 679.5)"  stroke="#111" stroke-width="0.15">STAT6</text>
<rect x="107.55" y="576.78" width="3.9" height="93.22" fill="#4c1d6e"/>
<rect x="111.42" y="546.99" width="3.9" height="123.01" fill="#e18d17"/>
<rect x="115.29" y="662.5" width="3.9" height="7.5" fill="#b3123c"/>
<rect x="119.16" y="653.66" width="3.9" height="16.34" fill="#6dae3f"/>
<rect x="123.03" y="539.5" width="3.9" height="130.5" fill="#6aaee6"/>
<text x="124.65" y="679.5" font-size="9.1" text-anchor="end" fill="#111" transform="rotate(-45 124.65 679.5)"  stroke="#111" stroke-width="0.15">CREBBP</text>
<rect x="131.85" y="596" width="3.9" height="74" fill="#4c1d6e"/>
<rect x="135.72" y="602.92" width="3.9" height="67.08" fill="#e18d17"/>
<rect x="139.59" y="614.26" width="3.9" height="55.74" fill="#b3123c"/>
<rect x="143.46" y="648.28" width="3.9" height="21.72" fill="#6dae3f"/>
<rect x="147.33" y="608.11" width="3.9" height="61.89" fill="#6aaee6"/>
<text x="148.95" y="679.5" font-size="9.1" text-anchor="end" fill="#111" transform="rotate(-45 148.95 679.5)"  stroke="#111" stroke-width="0.15">TNFRSF14</text>
<rect x="156.15" y="618.68" width="3.9" height="51.32" fill="#4c1d6e"/>
<rect x="160.02" y="512.97" width="3.9" height="157.03" fill="#e18d17"/>
<rect x="167.76" y="604.27" width="3.9" height="65.73" fill="#6dae3f"/>
<rect x="171.63" y="570.82" width="3.9" height="99.18" fill="#6aaee6"/>
<text x="173.25" y="679.5" font-size="9.1" text-anchor="end" fill="#111" transform="rotate(-45 173.25 679.5)"  stroke="#111" stroke-width="0.15">KMT2D</text>
<rect x="180.45" y="635.98" width="3.9" height="34.02" fill="#4c1d6e"/>
<rect x="184.32" y="631.75" width="3.9" height="38.25" fill="#e18d17"/>
<rect x="188.19" y="662.31" width="3.9" height="7.69" fill="#b3123c"/>
<rect x="195.93" y="639.44" width="3.9" height="30.56" fill="#6aaee6"/>
<text x="197.55" y="679.5" font-size="9.1" text-anchor="end" fill="#111" transform="rotate(-45 197.55 679.5)"  stroke="#111" stroke-width="0.15">EZH2</text>
<rect x="204.75" y="644.63" width="3.9" height="25.37" fill="#4c1d6e"/>
<rect x="208.62" y="650.97" width="3.9" height="19.03" fill="#e18d17"/>
<rect x="220.23" y="657.89" width="3.9" height="12.11" fill="#6aaee6"/>
<text x="221.85" y="679.5" font-size="9.1" text-anchor="end" fill="#111" transform="rotate(-45 221.85 679.5)"  stroke="#111" stroke-width="0.15">FOXO1</text>
<rect x="229.05" y="653.47" width="3.9" height="16.53" fill="#4c1d6e"/>
<rect x="232.92" y="637.33" width="3.9" height="32.67" fill="#e18d17"/>
<rect x="236.79" y="654.43" width="3.9" height="15.57" fill="#b3123c"/>
<rect x="240.66" y="658.85" width="3.9" height="11.15" fill="#6dae3f"/>
<text x="246.15" y="679.5" font-size="9.1" text-anchor="end" fill="#111" transform="rotate(-45 246.15 679.5)"  stroke="#111" stroke-width="0.15">HIST1H1E</text>
<rect x="253.35" y="656.16" width="3.9" height="13.84" fill="#4c1d6e"/>
<rect x="257.22" y="649.24" width="3.9" height="20.76" fill="#e18d17"/>
<rect x="261.09" y="662.12" width="3.9" height="7.88" fill="#b3123c"/>
<rect x="264.96" y="654.05" width="3.9" height="15.95" fill="#6dae3f"/>
<text x="270.45" y="679.5" font-size="9.1" text-anchor="end" fill="#111" transform="rotate(-45 270.45 679.5)"  stroke="#111" stroke-width="0.15">TNFAIP3</text>
<rect x="277.65" y="656.16" width="3.9" height="13.84" fill="#4c1d6e"/>
<rect x="281.52" y="655.2" width="3.9" height="14.8" fill="#e18d17"/>
<rect x="285.39" y="645.78" width="3.9" height="24.22" fill="#b3123c"/>
<text x="294.75" y="679.5" font-size="9.1" text-anchor="end" fill="#111" transform="rotate(-45 294.75 679.5)"  stroke="#111" stroke-width="0.15">SOCS1</text>
<rect x="301.95" y="657.12" width="3.9" height="12.88" fill="#4c1d6e"/>
<rect x="305.82" y="650.97" width="3.9" height="19.03" fill="#e18d17"/>
<rect x="309.69" y="662.31" width="3.9" height="7.69" fill="#b3123c"/>
<rect x="313.56" y="658.85" width="3.9" height="11.15" fill="#6dae3f"/>
<rect x="317.43" y="664.04" width="3.9" height="5.96" fill="#6aaee6"/>
<text x="319.05" y="679.5" font-size="9.1" text-anchor="end" fill="#111" transform="rotate(-45 319.05 679.5)"  stroke="#111" stroke-width="0.15">EP300</text>
<rect x="326.25" y="657.12" width="3.9" height="12.88" fill="#4c1d6e"/>
<rect x="330.12" y="664.81" width="3.9" height="5.19" fill="#e18d17"/>
<text x="343.35" y="679.5" font-size="9.1" text-anchor="end" fill="#111" transform="rotate(-45 343.35 679.5)"  stroke="#111" stroke-width="0.15">HIST1H1D</text>
<rect x="350.55" y="662.12" width="3.9" height="7.88" fill="#4c1d6e"/>
<rect x="354.42" y="660.77" width="3.9" height="9.23" fill="#e18d17"/>
<rect x="358.29" y="662.31" width="3.9" height="7.69" fill="#b3123c"/>
<rect x="362.16" y="664.81" width="3.9" height="5.19" fill="#6dae3f"/>
<text x="367.65" y="679.5" font-size="9.1" text-anchor="end" fill="#111" transform="rotate(-45 367.65 679.5)"  stroke="#111" stroke-width="0.15">HIST1H1C</text>
<rect x="374.85" y="663.08" width="3.9" height="6.92" fill="#4c1d6e"/>
<rect x="386.46" y="631.94" width="3.9" height="38.06" fill="#6dae3f"/>
<text x="391.95" y="679.5" font-size="9.1" text-anchor="end" fill="#111" transform="rotate(-45 391.95 679.5)"  stroke="#111" stroke-width="0.15">NOTCH2</text>
<rect x="399.15" y="665.96" width="3.9" height="4.04" fill="#4c1d6e"/>
<rect x="403.02" y="662.31" width="3.9" height="7.69" fill="#e18d17"/>
<rect x="410.76" y="658.85" width="3.9" height="11.15" fill="#6dae3f"/>
<text x="416.25" y="679.5" font-size="9.1" text-anchor="end" fill="#111" transform="rotate(-45 416.25 679.5)"  stroke="#111" stroke-width="0.15">HIST1H1B</text>
<rect x="423.45" y="665.96" width="3.9" height="4.04" fill="#4c1d6e"/>
<rect x="427.32" y="635.98" width="3.9" height="34.02" fill="#e18d17"/>
<rect x="435.06" y="664.81" width="3.9" height="5.19" fill="#6dae3f"/>
<rect x="438.93" y="639.44" width="3.9" height="30.56" fill="#6aaee6"/>
<text x="440.55" y="679.5" font-size="9.1" text-anchor="end" fill="#111" transform="rotate(-45 440.55 679.5)"  stroke="#111" stroke-width="0.15">MEF2B</text>
<rect x="459.36" y="654.05" width="3.9" height="15.95" fill="#6dae3f"/>
<text x="464.85" y="679.5" font-size="9.1" text-anchor="end" fill="#111" transform="rotate(-45 464.85 679.5)"  stroke="#111" stroke-width="0.15">MYD88</text>
<rect x="479.79" y="597.92" width="3.9" height="72.08" fill="#b3123c"/>
<text x="489.15" y="679.5" font-size="9.1" text-anchor="end" fill="#111" transform="rotate(-45 489.15 679.5)"  stroke="#111" stroke-width="0.15">MAP2K1</text>
<polygon points="75.5,544.4 76.02,545.79 77.5,545.85 76.34,546.77 76.73,548.2 75.5,547.38 74.27,548.2 74.66,546.77 73.5,545.85 74.98,545.79" fill="#f5c320"/>
<polygon points="81.8,544.4 82.32,545.79 83.8,545.85 82.64,546.77 83.03,548.2 81.8,547.38 80.57,548.2 80.96,546.77 79.8,545.85 81.28,545.79" fill="#b3123c"/>
<polygon points="88.3,544.4 88.82,545.79 90.3,545.85 89.14,546.77 89.53,548.2 88.3,547.38 87.07,548.2 87.46,546.77 86.3,545.85 87.78,545.79" fill="#6dae3f"/>
<polygon points="95,544.4 95.52,545.79 97,545.85 95.84,546.77 96.23,548.2 95,547.38 93.77,548.2 94.16,546.77 93,545.85 94.48,545.79" fill="#6aaee6"/>
<polygon points="120.5,519.7 121.02,521.09 122.5,521.15 121.34,522.07 121.73,523.5 120.5,522.68 119.27,523.5 119.66,522.07 118.5,521.15 119.98,521.09" fill="#b3123c"/>
<polygon points="129.4,519.7 129.92,521.09 131.4,521.15 130.24,522.07 130.63,523.5 129.4,522.68 128.17,523.5 128.56,522.07 127.4,521.15 128.88,521.09" fill="#6dae3f"/>
<polygon points="146.3,587.2 146.82,588.59 148.3,588.65 147.14,589.57 147.53,591 146.3,590.18 145.07,591 145.46,589.57 144.3,588.65 145.78,588.59" fill="#6dae3f"/>
<polygon points="153,501.9 153.52,503.29 155,503.35 153.84,504.27 154.23,505.7 153,504.88 151.77,505.7 152.16,504.27 151,503.35 152.48,503.29" fill="#f5c320"/>
<polygon points="161.8,501.9 162.32,503.29 163.8,503.35 162.64,504.27 163.03,505.7 161.8,504.88 160.57,505.7 160.96,504.27 159.8,503.35 161.28,503.29" fill="#b3123c"/>
<polygon points="171,501.9 171.52,503.29 173,503.35 171.84,504.27 172.23,505.7 171,504.88 169.77,505.7 170.16,504.27 169,503.35 170.48,503.29" fill="#6aaee6"/>
<polygon points="388.5,621.2 389.02,622.59 390.5,622.65 389.34,623.57 389.73,625 388.5,624.18 387.27,625 387.66,623.57 386.5,622.65 387.98,622.59" fill="#6dae3f"/>
<polygon points="426.9,621.2 427.42,622.59 428.9,622.65 427.74,623.57 428.13,625 426.9,624.18 425.67,625 426.06,623.57 424.9,622.65 426.38,622.59" fill="#f5c320"/>
<polygon points="435.9,621.2 436.42,622.59 437.9,622.65 436.74,623.57 437.13,625 435.9,624.18 434.67,625 435.06,623.57 433.9,622.65 435.38,622.59" fill="#6aaee6"/>
<polygon points="481.6,586.2 482.12,587.59 483.6,587.65 482.44,588.57 482.83,590 481.6,589.18 480.37,590 480.76,588.57 479.6,587.65 481.08,587.59" fill="#b3123c"/>
<rect x="138.3" y="722.5" width="5.6" height="5.6" fill="#4c1d6e"/>
<text x="148" y="727.6" font-size="8.2" text-anchor="start" fill="#1a1a1a" textLength="108.3" lengthAdjust="spacingAndGlyphs"  stroke="#1a1a1a" stroke-width="0.15">current t(14;18)-negative FL</text>
<rect x="268" y="722.5" width="5.6" height="5.6" fill="#e18d17"/>
<text x="278" y="727.6" font-size="8.2" text-anchor="start" fill="#1a1a1a" textLength="13.8" lengthAdjust="spacingAndGlyphs"  stroke="#1a1a1a" stroke-width="0.15">cFL</text>
<rect x="302.6" y="722.5" width="5.6" height="5.6" fill="#b3123c"/>
<text x="313" y="727.6" font-size="8.2" text-anchor="start" fill="#1a1a1a" textLength="19.6" lengthAdjust="spacingAndGlyphs"  stroke="#1a1a1a" stroke-width="0.15">PTFL</text>
<rect x="344.3" y="722.5" width="5.6" height="5.6" fill="#6dae3f"/>
<text x="354.3" y="727.6" font-size="8.2" text-anchor="start" fill="#1a1a1a" textLength="23.8" lengthAdjust="spacingAndGlyphs"  stroke="#1a1a1a" stroke-width="0.15">NMZL</text>
<rect x="389.3" y="722.5" width="5.6" height="5.6" fill="#6aaee6"/>
<text x="398.8" y="727.6" font-size="8.2" text-anchor="start" fill="#1a1a1a" textLength="20.8" lengthAdjust="spacingAndGlyphs"  stroke="#1a1a1a" stroke-width="0.15">DTFL</text>
<text x="8.6" y="500.2" font-size="12.6" text-anchor="start" fill="#000" font-weight="bold" textLength="8.9" lengthAdjust="spacingAndGlyphs" stroke="#000" stroke-width="0.35">C</text>
</g>
<rect x="0" y="0" width="520" height="1.15" fill="#000"/>
<rect x="0" y="0" width="1.2" height="738" fill="#000"/>
<rect x="518.5" y="0" width="1.5" height="738" fill="#000"/>
<rect x="0" y="736.3" width="520" height="1.7" fill="#000"/>
</svg>
</body></html>
